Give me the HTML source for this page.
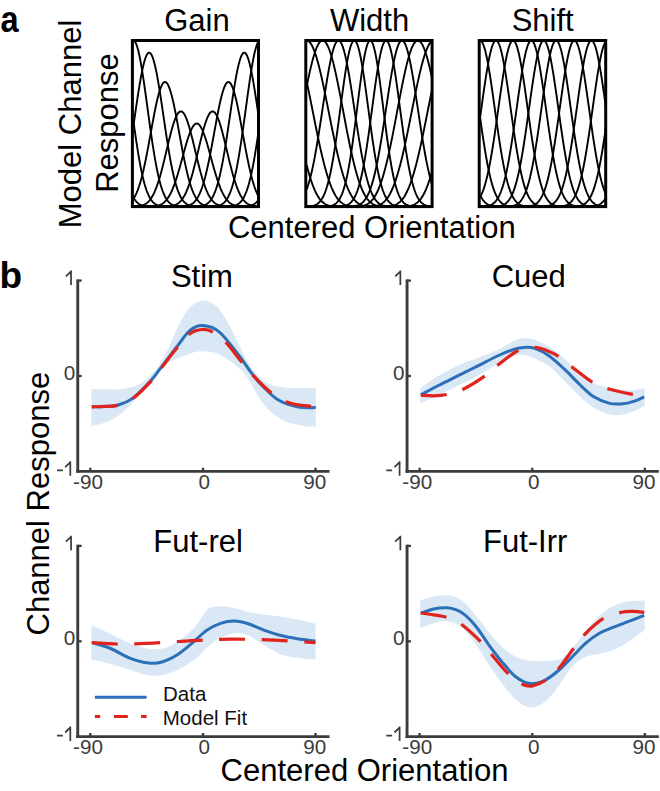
<!DOCTYPE html>
<html><head><meta charset="utf-8"><style>
html,body{margin:0;padding:0;background:#fff;}
svg{display:block;font-family:"Liberation Sans",sans-serif;}
</style></head><body>
<svg width="660" height="791" viewBox="0 0 660 791" font-family="&quot;Liberation Sans&quot;, sans-serif">
<rect width="660" height="791" fill="#fff"/>
<text transform="translate(0.5,32.1) scale(0.88,1)" font-size="37" font-weight="bold" fill="#000">a</text>
<text x="196.90" y="30.6" font-size="31" text-anchor="middle" fill="#000">Gain</text>
<text x="369.60" y="30.6" font-size="31" text-anchor="middle" fill="#000">Width</text>
<text x="542.70" y="30.6" font-size="31" text-anchor="middle" fill="#000">Shift</text>
<defs><clipPath id="c0"><rect x="132.40" y="40.50" width="126.10" height="166.10"/></clipPath><clipPath id="c1"><rect x="305.80" y="40.50" width="126.30" height="166.10"/></clipPath><clipPath id="c2"><rect x="479.20" y="40.50" width="126.50" height="166.10"/></clipPath></defs><g clip-path="url(#c0)" fill="none" stroke="#000" stroke-width="1.9"><path d="M133.30,40.50 L133.93,40.67 L134.57,41.18 L135.20,42.02 L135.84,43.20 L136.47,44.70 L137.10,46.52 L137.74,48.64 L138.37,51.05 L139.01,53.75 L139.64,56.71 L140.27,59.92 L140.91,63.36 L141.54,67.02 L142.18,70.87 L142.81,74.89 L143.44,79.07 L144.08,83.38 L144.71,87.80 L145.35,92.32 L145.98,96.90 L146.61,101.53 L147.25,106.19 L147.88,110.87 L148.52,115.53 L149.15,120.16 L149.78,124.75 L150.42,129.27 L151.05,133.72 L151.69,138.07 L152.32,142.33 L152.95,146.46 L153.59,150.47 L154.22,154.34 L154.86,158.07 L155.49,161.65 L156.12,165.08 L156.76,168.35 L157.39,171.45 L158.03,174.39 L158.66,177.17 L159.29,179.79 L159.93,182.24 L160.56,184.53 L161.20,186.67 L161.83,188.66 L162.46,190.49 L163.10,192.19 L163.73,193.75 L164.37,195.18 L165.00,196.48 L165.63,197.67 L166.27,198.75 L166.90,199.72 L167.54,200.59 L168.17,201.37 L168.80,202.07 L169.44,202.69 L170.07,203.24 L170.71,203.73 L171.34,204.16 L171.97,204.53 L172.61,204.85 L173.24,205.13 L173.88,205.37 L174.51,205.58 L175.14,205.76 L175.78,205.91 L176.41,206.03 L177.05,206.14 L177.68,206.23 L178.31,206.30 L178.95,206.36 L179.58,206.41 L180.22,206.45 L180.85,206.49 L181.48,206.51 L182.12,206.53 L182.75,206.55 L183.39,206.56 L184.02,206.57 L184.65,206.58 L185.29,206.58 L185.92,206.59 L186.56,206.59 L187.19,206.59 L187.82,206.60 L188.46,206.60 L189.09,206.60 L189.73,206.60 L190.36,206.60 L190.99,206.60 L191.63,206.60 L192.26,206.60 L192.90,206.60 L193.53,206.60 L194.16,206.60 L194.80,206.60 L195.43,206.60 L196.07,206.60 L196.70,206.60 L197.33,206.60 L197.97,206.60 L198.60,206.60 L199.24,206.60 L199.87,206.60 L200.50,206.60 L201.14,206.60 L201.77,206.60 L202.41,206.60 L203.04,206.60 L203.67,206.60 L204.31,206.60 L204.94,206.60 L205.58,206.60 L206.21,206.60 L206.84,206.60 L207.48,206.60 L208.11,206.60 L208.75,206.60 L209.38,206.60 L210.01,206.60 L210.65,206.60 L211.28,206.60 L211.92,206.60 L212.55,206.60 L213.18,206.60 L213.82,206.60 L214.45,206.60 L215.09,206.60 L215.72,206.60 L216.35,206.60 L216.99,206.60 L217.62,206.60 L218.26,206.60 L218.89,206.60 L219.52,206.60 L220.16,206.60 L220.79,206.60 L221.43,206.60 L222.06,206.59 L222.69,206.59 L223.33,206.59 L223.96,206.58 L224.60,206.58 L225.23,206.57 L225.86,206.56 L226.50,206.55 L227.13,206.53 L227.77,206.51 L228.40,206.49 L229.03,206.45 L229.67,206.41 L230.30,206.36 L230.94,206.30 L231.57,206.23 L232.20,206.14 L232.84,206.03 L233.47,205.91 L234.11,205.76 L234.74,205.58 L235.37,205.37 L236.01,205.13 L236.64,204.85 L237.28,204.53 L237.91,204.16 L238.54,203.73 L239.18,203.24 L239.81,202.69 L240.45,202.07 L241.08,201.37 L241.71,200.59 L242.35,199.72 L242.98,198.75 L243.62,197.67 L244.25,196.48 L244.88,195.18 L245.52,193.75 L246.15,192.19 L246.79,190.49 L247.42,188.66 L248.05,186.67 L248.69,184.53 L249.32,182.24 L249.96,179.79 L250.59,177.17 L251.22,174.39 L251.86,171.45 L252.49,168.35 L253.13,165.08 L253.76,161.65 L254.39,158.07 L255.03,154.34 L255.66,150.47 L256.30,146.46 L256.93,142.33 L257.56,138.07 L258.20,133.72 L258.83,129.27 L259.47,124.75 L260.10,120.16"/><path d="M133.30,126.49 L133.93,122.19 L134.57,117.88 L135.20,113.55 L135.84,109.23 L136.47,104.93 L137.10,100.68 L137.74,96.50 L138.37,92.40 L139.01,88.41 L139.64,84.54 L140.27,80.81 L140.91,77.24 L141.54,73.85 L142.18,70.66 L142.81,67.69 L143.44,64.94 L144.08,62.44 L144.71,60.20 L145.35,58.24 L145.98,56.55 L146.61,55.16 L147.25,54.07 L147.88,53.29 L148.52,52.82 L149.15,52.66 L149.78,52.82 L150.42,53.29 L151.05,54.07 L151.69,55.16 L152.32,56.55 L152.95,58.24 L153.59,60.20 L154.22,62.44 L154.86,64.94 L155.49,67.69 L156.12,70.66 L156.76,73.85 L157.39,77.24 L158.03,80.81 L158.66,84.54 L159.29,88.41 L159.93,92.40 L160.56,96.50 L161.20,100.68 L161.83,104.93 L162.46,109.23 L163.10,113.55 L163.73,117.88 L164.37,122.19 L165.00,126.49 L165.63,130.74 L166.27,134.93 L166.90,139.05 L167.54,143.09 L168.17,147.03 L168.80,150.86 L169.44,154.58 L170.07,158.17 L170.71,161.63 L171.34,164.95 L171.97,168.12 L172.61,171.15 L173.24,174.02 L173.88,176.75 L174.51,179.33 L175.14,181.75 L175.78,184.02 L176.41,186.15 L177.05,188.13 L177.68,189.97 L178.31,191.67 L178.95,193.25 L179.58,194.69 L180.22,196.02 L180.85,197.22 L181.48,198.32 L182.12,199.32 L182.75,200.22 L183.39,201.03 L184.02,201.76 L184.65,202.40 L185.29,202.98 L185.92,203.49 L186.56,203.94 L187.19,204.33 L187.82,204.68 L188.46,204.98 L189.09,205.24 L189.73,205.46 L190.36,205.65 L190.99,205.82 L191.63,205.96 L192.26,206.08 L192.90,206.17 L193.53,206.26 L194.16,206.32 L194.80,206.38 L195.43,206.43 L196.07,206.46 L196.70,206.49 L197.33,206.52 L197.97,206.54 L198.60,206.55 L199.24,206.56 L199.87,206.57 L200.50,206.58 L201.14,206.59 L201.77,206.59 L202.41,206.59 L203.04,206.59 L203.67,206.60 L204.31,206.60 L204.94,206.60 L205.58,206.60 L206.21,206.60 L206.84,206.60 L207.48,206.60 L208.11,206.60 L208.75,206.60 L209.38,206.60 L210.01,206.60 L210.65,206.60 L211.28,206.60 L211.92,206.60 L212.55,206.60 L213.18,206.60 L213.82,206.60 L214.45,206.60 L215.09,206.60 L215.72,206.60 L216.35,206.60 L216.99,206.60 L217.62,206.60 L218.26,206.60 L218.89,206.60 L219.52,206.60 L220.16,206.60 L220.79,206.60 L221.43,206.60 L222.06,206.60 L222.69,206.60 L223.33,206.60 L223.96,206.60 L224.60,206.60 L225.23,206.60 L225.86,206.60 L226.50,206.60 L227.13,206.60 L227.77,206.60 L228.40,206.60 L229.03,206.60 L229.67,206.60 L230.30,206.60 L230.94,206.60 L231.57,206.60 L232.20,206.60 L232.84,206.60 L233.47,206.60 L234.11,206.60 L234.74,206.60 L235.37,206.60 L236.01,206.60 L236.64,206.60 L237.28,206.60 L237.91,206.59 L238.54,206.59 L239.18,206.59 L239.81,206.59 L240.45,206.58 L241.08,206.57 L241.71,206.56 L242.35,206.55 L242.98,206.54 L243.62,206.52 L244.25,206.49 L244.88,206.46 L245.52,206.43 L246.15,206.38 L246.79,206.32 L247.42,206.26 L248.05,206.17 L248.69,206.08 L249.32,205.96 L249.96,205.82 L250.59,205.65 L251.22,205.46 L251.86,205.24 L252.49,204.98 L253.13,204.68 L253.76,204.33 L254.39,203.94 L255.03,203.49 L255.66,202.98 L256.30,202.40 L256.93,201.76 L257.56,201.03 L258.20,200.22 L258.83,199.32 L259.47,198.32 L260.10,197.22"/><path d="M133.30,199.01 L133.93,198.03 L134.57,196.96 L135.20,195.79 L135.84,194.52 L136.47,193.14 L137.10,191.65 L137.74,190.05 L138.37,188.33 L139.01,186.49 L139.64,184.53 L140.27,182.44 L140.91,180.24 L141.54,177.91 L142.18,175.46 L142.81,172.89 L143.44,170.21 L144.08,167.41 L144.71,164.50 L145.35,161.50 L145.98,158.39 L146.61,155.21 L147.25,151.94 L147.88,148.60 L148.52,145.21 L149.15,141.77 L149.78,138.29 L150.42,134.80 L151.05,131.30 L151.69,127.80 L152.32,124.32 L152.95,120.89 L153.59,117.50 L154.22,114.18 L154.86,110.95 L155.49,107.82 L156.12,104.80 L156.76,101.91 L157.39,99.17 L158.03,96.59 L158.66,94.18 L159.29,91.96 L159.93,89.94 L160.56,88.13 L161.20,86.54 L161.83,85.17 L162.46,84.05 L163.10,83.17 L163.73,82.53 L164.37,82.15 L165.00,82.03 L165.63,82.15 L166.27,82.53 L166.90,83.17 L167.54,84.05 L168.17,85.17 L168.80,86.54 L169.44,88.13 L170.07,89.94 L170.71,91.96 L171.34,94.18 L171.97,96.59 L172.61,99.17 L173.24,101.91 L173.88,104.80 L174.51,107.82 L175.14,110.95 L175.78,114.18 L176.41,117.50 L177.05,120.89 L177.68,124.32 L178.31,127.80 L178.95,131.30 L179.58,134.80 L180.22,138.29 L180.85,141.77 L181.48,145.21 L182.12,148.60 L182.75,151.94 L183.39,155.21 L184.02,158.39 L184.65,161.50 L185.29,164.50 L185.92,167.41 L186.56,170.21 L187.19,172.89 L187.82,175.46 L188.46,177.91 L189.09,180.24 L189.73,182.44 L190.36,184.53 L190.99,186.49 L191.63,188.33 L192.26,190.05 L192.90,191.65 L193.53,193.14 L194.16,194.52 L194.80,195.79 L195.43,196.96 L196.07,198.03 L196.70,199.01 L197.33,199.90 L197.97,200.71 L198.60,201.44 L199.24,202.09 L199.87,202.68 L200.50,203.20 L201.14,203.67 L201.77,204.08 L202.41,204.45 L203.04,204.77 L203.67,205.05 L204.31,205.29 L204.94,205.50 L205.58,205.68 L206.21,205.84 L206.84,205.97 L207.48,206.08 L208.11,206.18 L208.75,206.25 L209.38,206.32 L210.01,206.38 L210.65,206.42 L211.28,206.46 L211.92,206.49 L212.55,206.51 L213.18,206.53 L213.82,206.55 L214.45,206.56 L215.09,206.57 L215.72,206.58 L216.35,206.58 L216.99,206.59 L217.62,206.59 L218.26,206.59 L218.89,206.60 L219.52,206.60 L220.16,206.60 L220.79,206.60 L221.43,206.60 L222.06,206.60 L222.69,206.60 L223.33,206.60 L223.96,206.60 L224.60,206.60 L225.23,206.60 L225.86,206.60 L226.50,206.60 L227.13,206.60 L227.77,206.60 L228.40,206.60 L229.03,206.60 L229.67,206.60 L230.30,206.60 L230.94,206.60 L231.57,206.60 L232.20,206.60 L232.84,206.60 L233.47,206.60 L234.11,206.60 L234.74,206.60 L235.37,206.60 L236.01,206.60 L236.64,206.60 L237.28,206.60 L237.91,206.60 L238.54,206.60 L239.18,206.60 L239.81,206.60 L240.45,206.60 L241.08,206.60 L241.71,206.60 L242.35,206.60 L242.98,206.60 L243.62,206.60 L244.25,206.60 L244.88,206.60 L245.52,206.60 L246.15,206.60 L246.79,206.60 L247.42,206.60 L248.05,206.60 L248.69,206.60 L249.32,206.60 L249.96,206.60 L250.59,206.60 L251.22,206.60 L251.86,206.60 L252.49,206.60 L253.13,206.60 L253.76,206.60 L254.39,206.59 L255.03,206.59 L255.66,206.59 L256.30,206.58 L256.93,206.58 L257.56,206.57 L258.20,206.56 L258.83,206.55 L259.47,206.53 L260.10,206.51"/><path d="M133.30,206.53 L133.93,206.52 L134.57,206.49 L135.20,206.46 L135.84,206.43 L136.47,206.39 L137.10,206.34 L137.74,206.28 L138.37,206.20 L139.01,206.12 L139.64,206.02 L140.27,205.90 L140.91,205.76 L141.54,205.60 L142.18,205.41 L142.81,205.20 L143.44,204.95 L144.08,204.68 L144.71,204.36 L145.35,204.00 L145.98,203.60 L146.61,203.16 L147.25,202.65 L147.88,202.10 L148.52,201.48 L149.15,200.80 L149.78,200.05 L150.42,199.23 L151.05,198.34 L151.69,197.37 L152.32,196.31 L152.95,195.18 L153.59,193.95 L154.22,192.64 L154.86,191.23 L155.49,189.73 L156.12,188.14 L156.76,186.45 L157.39,184.67 L158.03,182.80 L158.66,180.84 L159.29,178.78 L159.93,176.65 L160.56,174.43 L161.20,172.13 L161.83,169.76 L162.46,167.32 L163.10,164.82 L163.73,162.27 L164.37,159.68 L165.00,157.05 L165.63,154.39 L166.27,151.72 L166.90,149.05 L167.54,146.37 L168.17,143.72 L168.80,141.09 L169.44,138.50 L170.07,135.97 L170.71,133.50 L171.34,131.10 L171.97,128.79 L172.61,126.59 L173.24,124.49 L173.88,122.52 L174.51,120.68 L175.14,118.98 L175.78,117.44 L176.41,116.05 L177.05,114.84 L177.68,113.79 L178.31,112.93 L178.95,112.26 L179.58,111.78 L180.22,111.49 L180.85,111.39 L181.48,111.49 L182.12,111.78 L182.75,112.26 L183.39,112.93 L184.02,113.79 L184.65,114.84 L185.29,116.05 L185.92,117.44 L186.56,118.98 L187.19,120.68 L187.82,122.52 L188.46,124.49 L189.09,126.59 L189.73,128.79 L190.36,131.10 L190.99,133.50 L191.63,135.97 L192.26,138.50 L192.90,141.09 L193.53,143.72 L194.16,146.37 L194.80,149.05 L195.43,151.72 L196.07,154.39 L196.70,157.05 L197.33,159.68 L197.97,162.27 L198.60,164.82 L199.24,167.32 L199.87,169.76 L200.50,172.13 L201.14,174.43 L201.77,176.65 L202.41,178.78 L203.04,180.84 L203.67,182.80 L204.31,184.67 L204.94,186.45 L205.58,188.14 L206.21,189.73 L206.84,191.23 L207.48,192.64 L208.11,193.95 L208.75,195.18 L209.38,196.31 L210.01,197.37 L210.65,198.34 L211.28,199.23 L211.92,200.05 L212.55,200.80 L213.18,201.48 L213.82,202.10 L214.45,202.65 L215.09,203.16 L215.72,203.60 L216.35,204.00 L216.99,204.36 L217.62,204.68 L218.26,204.95 L218.89,205.20 L219.52,205.41 L220.16,205.60 L220.79,205.76 L221.43,205.90 L222.06,206.02 L222.69,206.12 L223.33,206.20 L223.96,206.28 L224.60,206.34 L225.23,206.39 L225.86,206.43 L226.50,206.46 L227.13,206.49 L227.77,206.52 L228.40,206.53 L229.03,206.55 L229.67,206.56 L230.30,206.57 L230.94,206.58 L231.57,206.58 L232.20,206.59 L232.84,206.59 L233.47,206.59 L234.11,206.60 L234.74,206.60 L235.37,206.60 L236.01,206.60 L236.64,206.60 L237.28,206.60 L237.91,206.60 L238.54,206.60 L239.18,206.60 L239.81,206.60 L240.45,206.60 L241.08,206.60 L241.71,206.60 L242.35,206.60 L242.98,206.60 L243.62,206.60 L244.25,206.60 L244.88,206.60 L245.52,206.60 L246.15,206.60 L246.79,206.60 L247.42,206.60 L248.05,206.60 L248.69,206.60 L249.32,206.60 L249.96,206.60 L250.59,206.60 L251.22,206.60 L251.86,206.60 L252.49,206.60 L253.13,206.60 L253.76,206.60 L254.39,206.60 L255.03,206.60 L255.66,206.60 L256.30,206.60 L256.93,206.60 L257.56,206.60 L258.20,206.60 L258.83,206.60 L259.47,206.60 L260.10,206.60"/><path d="M133.30,206.60 L133.93,206.60 L134.57,206.60 L135.20,206.60 L135.84,206.60 L136.47,206.60 L137.10,206.60 L137.74,206.60 L138.37,206.60 L139.01,206.60 L139.64,206.60 L140.27,206.60 L140.91,206.60 L141.54,206.60 L142.18,206.60 L142.81,206.60 L143.44,206.60 L144.08,206.59 L144.71,206.59 L145.35,206.59 L145.98,206.59 L146.61,206.58 L147.25,206.57 L147.88,206.57 L148.52,206.56 L149.15,206.54 L149.78,206.53 L150.42,206.51 L151.05,206.48 L151.69,206.45 L152.32,206.41 L152.95,206.37 L153.59,206.32 L154.22,206.25 L154.86,206.18 L155.49,206.09 L156.12,205.99 L156.76,205.87 L157.39,205.73 L158.03,205.56 L158.66,205.38 L159.29,205.16 L159.93,204.92 L160.56,204.65 L161.20,204.34 L161.83,203.99 L162.46,203.60 L163.10,203.16 L163.73,202.67 L164.37,202.14 L165.00,201.54 L165.63,200.89 L166.27,200.17 L166.90,199.40 L167.54,198.55 L168.17,197.63 L168.80,196.63 L169.44,195.57 L170.07,194.42 L170.71,193.19 L171.34,191.89 L171.97,190.50 L172.61,189.03 L173.24,187.47 L173.88,185.84 L174.51,184.13 L175.14,182.34 L175.78,180.47 L176.41,178.54 L177.05,176.53 L177.68,174.46 L178.31,172.34 L178.95,170.16 L179.58,167.94 L180.22,165.67 L180.85,163.38 L181.48,161.06 L182.12,158.73 L182.75,156.40 L183.39,154.07 L184.02,151.75 L184.65,149.46 L185.29,147.20 L185.92,144.99 L186.56,142.83 L187.19,140.75 L187.82,138.73 L188.46,136.81 L189.09,134.98 L189.73,133.26 L190.36,131.65 L190.99,130.17 L191.63,128.83 L192.26,127.62 L192.90,126.56 L193.53,125.65 L194.16,124.90 L194.80,124.31 L195.43,123.89 L196.07,123.63 L196.70,123.55 L197.33,123.63 L197.97,123.89 L198.60,124.31 L199.24,124.90 L199.87,125.65 L200.50,126.56 L201.14,127.62 L201.77,128.83 L202.41,130.17 L203.04,131.65 L203.67,133.26 L204.31,134.98 L204.94,136.81 L205.58,138.73 L206.21,140.75 L206.84,142.83 L207.48,144.99 L208.11,147.20 L208.75,149.46 L209.38,151.75 L210.01,154.07 L210.65,156.40 L211.28,158.73 L211.92,161.06 L212.55,163.38 L213.18,165.67 L213.82,167.94 L214.45,170.16 L215.09,172.34 L215.72,174.46 L216.35,176.53 L216.99,178.54 L217.62,180.47 L218.26,182.34 L218.89,184.13 L219.52,185.84 L220.16,187.47 L220.79,189.03 L221.43,190.50 L222.06,191.89 L222.69,193.19 L223.33,194.42 L223.96,195.57 L224.60,196.63 L225.23,197.63 L225.86,198.55 L226.50,199.40 L227.13,200.17 L227.77,200.89 L228.40,201.54 L229.03,202.14 L229.67,202.67 L230.30,203.16 L230.94,203.60 L231.57,203.99 L232.20,204.34 L232.84,204.65 L233.47,204.92 L234.11,205.16 L234.74,205.38 L235.37,205.56 L236.01,205.73 L236.64,205.87 L237.28,205.99 L237.91,206.09 L238.54,206.18 L239.18,206.25 L239.81,206.32 L240.45,206.37 L241.08,206.41 L241.71,206.45 L242.35,206.48 L242.98,206.51 L243.62,206.53 L244.25,206.54 L244.88,206.56 L245.52,206.57 L246.15,206.57 L246.79,206.58 L247.42,206.59 L248.05,206.59 L248.69,206.59 L249.32,206.59 L249.96,206.60 L250.59,206.60 L251.22,206.60 L251.86,206.60 L252.49,206.60 L253.13,206.60 L253.76,206.60 L254.39,206.60 L255.03,206.60 L255.66,206.60 L256.30,206.60 L256.93,206.60 L257.56,206.60 L258.20,206.60 L258.83,206.60 L259.47,206.60 L260.10,206.60"/><path d="M133.30,206.60 L133.93,206.60 L134.57,206.60 L135.20,206.60 L135.84,206.60 L136.47,206.60 L137.10,206.60 L137.74,206.60 L138.37,206.60 L139.01,206.60 L139.64,206.60 L140.27,206.60 L140.91,206.60 L141.54,206.60 L142.18,206.60 L142.81,206.60 L143.44,206.60 L144.08,206.60 L144.71,206.60 L145.35,206.60 L145.98,206.60 L146.61,206.60 L147.25,206.60 L147.88,206.60 L148.52,206.60 L149.15,206.60 L149.78,206.60 L150.42,206.60 L151.05,206.60 L151.69,206.60 L152.32,206.60 L152.95,206.60 L153.59,206.60 L154.22,206.60 L154.86,206.60 L155.49,206.60 L156.12,206.60 L156.76,206.60 L157.39,206.60 L158.03,206.60 L158.66,206.60 L159.29,206.60 L159.93,206.59 L160.56,206.59 L161.20,206.59 L161.83,206.58 L162.46,206.58 L163.10,206.57 L163.73,206.56 L164.37,206.55 L165.00,206.53 L165.63,206.52 L166.27,206.49 L166.90,206.46 L167.54,206.43 L168.17,206.39 L168.80,206.34 L169.44,206.28 L170.07,206.20 L170.71,206.12 L171.34,206.02 L171.97,205.90 L172.61,205.76 L173.24,205.60 L173.88,205.41 L174.51,205.20 L175.14,204.95 L175.78,204.68 L176.41,204.36 L177.05,204.00 L177.68,203.60 L178.31,203.16 L178.95,202.65 L179.58,202.10 L180.22,201.48 L180.85,200.80 L181.48,200.05 L182.12,199.23 L182.75,198.34 L183.39,197.37 L184.02,196.31 L184.65,195.18 L185.29,193.95 L185.92,192.64 L186.56,191.23 L187.19,189.73 L187.82,188.14 L188.46,186.45 L189.09,184.67 L189.73,182.80 L190.36,180.84 L190.99,178.78 L191.63,176.65 L192.26,174.43 L192.90,172.13 L193.53,169.76 L194.16,167.32 L194.80,164.82 L195.43,162.27 L196.07,159.68 L196.70,157.05 L197.33,154.39 L197.97,151.72 L198.60,149.05 L199.24,146.37 L199.87,143.72 L200.50,141.09 L201.14,138.50 L201.77,135.97 L202.41,133.50 L203.04,131.10 L203.67,128.79 L204.31,126.59 L204.94,124.49 L205.58,122.52 L206.21,120.68 L206.84,118.98 L207.48,117.44 L208.11,116.05 L208.75,114.84 L209.38,113.79 L210.01,112.93 L210.65,112.26 L211.28,111.78 L211.92,111.49 L212.55,111.39 L213.18,111.49 L213.82,111.78 L214.45,112.26 L215.09,112.93 L215.72,113.79 L216.35,114.84 L216.99,116.05 L217.62,117.44 L218.26,118.98 L218.89,120.68 L219.52,122.52 L220.16,124.49 L220.79,126.59 L221.43,128.79 L222.06,131.10 L222.69,133.50 L223.33,135.97 L223.96,138.50 L224.60,141.09 L225.23,143.72 L225.86,146.37 L226.50,149.05 L227.13,151.72 L227.77,154.39 L228.40,157.05 L229.03,159.68 L229.67,162.27 L230.30,164.82 L230.94,167.32 L231.57,169.76 L232.20,172.13 L232.84,174.43 L233.47,176.65 L234.11,178.78 L234.74,180.84 L235.37,182.80 L236.01,184.67 L236.64,186.45 L237.28,188.14 L237.91,189.73 L238.54,191.23 L239.18,192.64 L239.81,193.95 L240.45,195.18 L241.08,196.31 L241.71,197.37 L242.35,198.34 L242.98,199.23 L243.62,200.05 L244.25,200.80 L244.88,201.48 L245.52,202.10 L246.15,202.65 L246.79,203.16 L247.42,203.60 L248.05,204.00 L248.69,204.36 L249.32,204.68 L249.96,204.95 L250.59,205.20 L251.22,205.41 L251.86,205.60 L252.49,205.76 L253.13,205.90 L253.76,206.02 L254.39,206.12 L255.03,206.20 L255.66,206.28 L256.30,206.34 L256.93,206.39 L257.56,206.43 L258.20,206.46 L258.83,206.49 L259.47,206.52 L260.10,206.53"/><path d="M133.30,206.51 L133.93,206.53 L134.57,206.55 L135.20,206.56 L135.84,206.57 L136.47,206.58 L137.10,206.58 L137.74,206.59 L138.37,206.59 L139.01,206.59 L139.64,206.60 L140.27,206.60 L140.91,206.60 L141.54,206.60 L142.18,206.60 L142.81,206.60 L143.44,206.60 L144.08,206.60 L144.71,206.60 L145.35,206.60 L145.98,206.60 L146.61,206.60 L147.25,206.60 L147.88,206.60 L148.52,206.60 L149.15,206.60 L149.78,206.60 L150.42,206.60 L151.05,206.60 L151.69,206.60 L152.32,206.60 L152.95,206.60 L153.59,206.60 L154.22,206.60 L154.86,206.60 L155.49,206.60 L156.12,206.60 L156.76,206.60 L157.39,206.60 L158.03,206.60 L158.66,206.60 L159.29,206.60 L159.93,206.60 L160.56,206.60 L161.20,206.60 L161.83,206.60 L162.46,206.60 L163.10,206.60 L163.73,206.60 L164.37,206.60 L165.00,206.60 L165.63,206.60 L166.27,206.60 L166.90,206.60 L167.54,206.60 L168.17,206.60 L168.80,206.60 L169.44,206.60 L170.07,206.60 L170.71,206.60 L171.34,206.60 L171.97,206.60 L172.61,206.60 L173.24,206.60 L173.88,206.60 L174.51,206.60 L175.14,206.59 L175.78,206.59 L176.41,206.59 L177.05,206.58 L177.68,206.58 L178.31,206.57 L178.95,206.56 L179.58,206.55 L180.22,206.53 L180.85,206.51 L181.48,206.49 L182.12,206.46 L182.75,206.42 L183.39,206.38 L184.02,206.32 L184.65,206.25 L185.29,206.18 L185.92,206.08 L186.56,205.97 L187.19,205.84 L187.82,205.68 L188.46,205.50 L189.09,205.29 L189.73,205.05 L190.36,204.77 L190.99,204.45 L191.63,204.08 L192.26,203.67 L192.90,203.20 L193.53,202.68 L194.16,202.09 L194.80,201.44 L195.43,200.71 L196.07,199.90 L196.70,199.01 L197.33,198.03 L197.97,196.96 L198.60,195.79 L199.24,194.52 L199.87,193.14 L200.50,191.65 L201.14,190.05 L201.77,188.33 L202.41,186.49 L203.04,184.53 L203.67,182.44 L204.31,180.24 L204.94,177.91 L205.58,175.46 L206.21,172.89 L206.84,170.21 L207.48,167.41 L208.11,164.50 L208.75,161.50 L209.38,158.39 L210.01,155.21 L210.65,151.94 L211.28,148.60 L211.92,145.21 L212.55,141.77 L213.18,138.29 L213.82,134.80 L214.45,131.30 L215.09,127.80 L215.72,124.32 L216.35,120.89 L216.99,117.50 L217.62,114.18 L218.26,110.95 L218.89,107.82 L219.52,104.80 L220.16,101.91 L220.79,99.17 L221.43,96.59 L222.06,94.18 L222.69,91.96 L223.33,89.94 L223.96,88.13 L224.60,86.54 L225.23,85.17 L225.86,84.05 L226.50,83.17 L227.13,82.53 L227.77,82.15 L228.40,82.03 L229.03,82.15 L229.67,82.53 L230.30,83.17 L230.94,84.05 L231.57,85.17 L232.20,86.54 L232.84,88.13 L233.47,89.94 L234.11,91.96 L234.74,94.18 L235.37,96.59 L236.01,99.17 L236.64,101.91 L237.28,104.80 L237.91,107.82 L238.54,110.95 L239.18,114.18 L239.81,117.50 L240.45,120.89 L241.08,124.32 L241.71,127.80 L242.35,131.30 L242.98,134.80 L243.62,138.29 L244.25,141.77 L244.88,145.21 L245.52,148.60 L246.15,151.94 L246.79,155.21 L247.42,158.39 L248.05,161.50 L248.69,164.50 L249.32,167.41 L249.96,170.21 L250.59,172.89 L251.22,175.46 L251.86,177.91 L252.49,180.24 L253.13,182.44 L253.76,184.53 L254.39,186.49 L255.03,188.33 L255.66,190.05 L256.30,191.65 L256.93,193.14 L257.56,194.52 L258.20,195.79 L258.83,196.96 L259.47,198.03 L260.10,199.01"/><path d="M133.30,197.22 L133.93,198.32 L134.57,199.32 L135.20,200.22 L135.84,201.03 L136.47,201.76 L137.10,202.40 L137.74,202.98 L138.37,203.49 L139.01,203.94 L139.64,204.33 L140.27,204.68 L140.91,204.98 L141.54,205.24 L142.18,205.46 L142.81,205.65 L143.44,205.82 L144.08,205.96 L144.71,206.08 L145.35,206.17 L145.98,206.26 L146.61,206.32 L147.25,206.38 L147.88,206.43 L148.52,206.46 L149.15,206.49 L149.78,206.52 L150.42,206.54 L151.05,206.55 L151.69,206.56 L152.32,206.57 L152.95,206.58 L153.59,206.59 L154.22,206.59 L154.86,206.59 L155.49,206.59 L156.12,206.60 L156.76,206.60 L157.39,206.60 L158.03,206.60 L158.66,206.60 L159.29,206.60 L159.93,206.60 L160.56,206.60 L161.20,206.60 L161.83,206.60 L162.46,206.60 L163.10,206.60 L163.73,206.60 L164.37,206.60 L165.00,206.60 L165.63,206.60 L166.27,206.60 L166.90,206.60 L167.54,206.60 L168.17,206.60 L168.80,206.60 L169.44,206.60 L170.07,206.60 L170.71,206.60 L171.34,206.60 L171.97,206.60 L172.61,206.60 L173.24,206.60 L173.88,206.60 L174.51,206.60 L175.14,206.60 L175.78,206.60 L176.41,206.60 L177.05,206.60 L177.68,206.60 L178.31,206.60 L178.95,206.60 L179.58,206.60 L180.22,206.60 L180.85,206.60 L181.48,206.60 L182.12,206.60 L182.75,206.60 L183.39,206.60 L184.02,206.60 L184.65,206.60 L185.29,206.60 L185.92,206.60 L186.56,206.60 L187.19,206.60 L187.82,206.60 L188.46,206.60 L189.09,206.60 L189.73,206.60 L190.36,206.59 L190.99,206.59 L191.63,206.59 L192.26,206.59 L192.90,206.58 L193.53,206.57 L194.16,206.56 L194.80,206.55 L195.43,206.54 L196.07,206.52 L196.70,206.49 L197.33,206.46 L197.97,206.43 L198.60,206.38 L199.24,206.32 L199.87,206.26 L200.50,206.17 L201.14,206.08 L201.77,205.96 L202.41,205.82 L203.04,205.65 L203.67,205.46 L204.31,205.24 L204.94,204.98 L205.58,204.68 L206.21,204.33 L206.84,203.94 L207.48,203.49 L208.11,202.98 L208.75,202.40 L209.38,201.76 L210.01,201.03 L210.65,200.22 L211.28,199.32 L211.92,198.32 L212.55,197.22 L213.18,196.02 L213.82,194.69 L214.45,193.25 L215.09,191.67 L215.72,189.97 L216.35,188.13 L216.99,186.15 L217.62,184.02 L218.26,181.75 L218.89,179.33 L219.52,176.75 L220.16,174.02 L220.79,171.15 L221.43,168.12 L222.06,164.95 L222.69,161.63 L223.33,158.17 L223.96,154.58 L224.60,150.86 L225.23,147.03 L225.86,143.09 L226.50,139.05 L227.13,134.93 L227.77,130.74 L228.40,126.49 L229.03,122.19 L229.67,117.88 L230.30,113.55 L230.94,109.23 L231.57,104.93 L232.20,100.68 L232.84,96.50 L233.47,92.40 L234.11,88.41 L234.74,84.54 L235.37,80.81 L236.01,77.24 L236.64,73.85 L237.28,70.66 L237.91,67.69 L238.54,64.94 L239.18,62.44 L239.81,60.20 L240.45,58.24 L241.08,56.55 L241.71,55.16 L242.35,54.07 L242.98,53.29 L243.62,52.82 L244.25,52.66 L244.88,52.82 L245.52,53.29 L246.15,54.07 L246.79,55.16 L247.42,56.55 L248.05,58.24 L248.69,60.20 L249.32,62.44 L249.96,64.94 L250.59,67.69 L251.22,70.66 L251.86,73.85 L252.49,77.24 L253.13,80.81 L253.76,84.54 L254.39,88.41 L255.03,92.40 L255.66,96.50 L256.30,100.68 L256.93,104.93 L257.56,109.23 L258.20,113.55 L258.83,117.88 L259.47,122.19 L260.10,126.49"/><path d="M133.30,120.16 L133.93,124.75 L134.57,129.27 L135.20,133.72 L135.84,138.07 L136.47,142.33 L137.10,146.46 L137.74,150.47 L138.37,154.34 L139.01,158.07 L139.64,161.65 L140.27,165.08 L140.91,168.35 L141.54,171.45 L142.18,174.39 L142.81,177.17 L143.44,179.79 L144.08,182.24 L144.71,184.53 L145.35,186.67 L145.98,188.66 L146.61,190.49 L147.25,192.19 L147.88,193.75 L148.52,195.18 L149.15,196.48 L149.78,197.67 L150.42,198.75 L151.05,199.72 L151.69,200.59 L152.32,201.37 L152.95,202.07 L153.59,202.69 L154.22,203.24 L154.86,203.73 L155.49,204.16 L156.12,204.53 L156.76,204.85 L157.39,205.13 L158.03,205.37 L158.66,205.58 L159.29,205.76 L159.93,205.91 L160.56,206.03 L161.20,206.14 L161.83,206.23 L162.46,206.30 L163.10,206.36 L163.73,206.41 L164.37,206.45 L165.00,206.49 L165.63,206.51 L166.27,206.53 L166.90,206.55 L167.54,206.56 L168.17,206.57 L168.80,206.58 L169.44,206.58 L170.07,206.59 L170.71,206.59 L171.34,206.59 L171.97,206.60 L172.61,206.60 L173.24,206.60 L173.88,206.60 L174.51,206.60 L175.14,206.60 L175.78,206.60 L176.41,206.60 L177.05,206.60 L177.68,206.60 L178.31,206.60 L178.95,206.60 L179.58,206.60 L180.22,206.60 L180.85,206.60 L181.48,206.60 L182.12,206.60 L182.75,206.60 L183.39,206.60 L184.02,206.60 L184.65,206.60 L185.29,206.60 L185.92,206.60 L186.56,206.60 L187.19,206.60 L187.82,206.60 L188.46,206.60 L189.09,206.60 L189.73,206.60 L190.36,206.60 L190.99,206.60 L191.63,206.60 L192.26,206.60 L192.90,206.60 L193.53,206.60 L194.16,206.60 L194.80,206.60 L195.43,206.60 L196.07,206.60 L196.70,206.60 L197.33,206.60 L197.97,206.60 L198.60,206.60 L199.24,206.60 L199.87,206.60 L200.50,206.60 L201.14,206.60 L201.77,206.60 L202.41,206.60 L203.04,206.60 L203.67,206.60 L204.31,206.60 L204.94,206.60 L205.58,206.60 L206.21,206.59 L206.84,206.59 L207.48,206.59 L208.11,206.58 L208.75,206.58 L209.38,206.57 L210.01,206.56 L210.65,206.55 L211.28,206.53 L211.92,206.51 L212.55,206.49 L213.18,206.45 L213.82,206.41 L214.45,206.36 L215.09,206.30 L215.72,206.23 L216.35,206.14 L216.99,206.03 L217.62,205.91 L218.26,205.76 L218.89,205.58 L219.52,205.37 L220.16,205.13 L220.79,204.85 L221.43,204.53 L222.06,204.16 L222.69,203.73 L223.33,203.24 L223.96,202.69 L224.60,202.07 L225.23,201.37 L225.86,200.59 L226.50,199.72 L227.13,198.75 L227.77,197.67 L228.40,196.48 L229.03,195.18 L229.67,193.75 L230.30,192.19 L230.94,190.49 L231.57,188.66 L232.20,186.67 L232.84,184.53 L233.47,182.24 L234.11,179.79 L234.74,177.17 L235.37,174.39 L236.01,171.45 L236.64,168.35 L237.28,165.08 L237.91,161.65 L238.54,158.07 L239.18,154.34 L239.81,150.47 L240.45,146.46 L241.08,142.33 L241.71,138.07 L242.35,133.72 L242.98,129.27 L243.62,124.75 L244.25,120.16 L244.88,115.53 L245.52,110.87 L246.15,106.19 L246.79,101.53 L247.42,96.90 L248.05,92.32 L248.69,87.80 L249.32,83.38 L249.96,79.07 L250.59,74.89 L251.22,70.87 L251.86,67.02 L252.49,63.36 L253.13,59.92 L253.76,56.71 L254.39,53.75 L255.03,51.05 L255.66,48.64 L256.30,46.52 L256.93,44.70 L257.56,43.20 L258.20,42.02 L258.83,41.18 L259.47,40.67 L260.10,40.50"/></g><rect x="132.40" y="40.50" width="126.10" height="166.10" fill="none" stroke="#000" stroke-width="3"/><g clip-path="url(#c1)" fill="none" stroke="#000" stroke-width="1.9"><path d="M306.70,40.50 L307.33,40.57 L307.97,40.80 L308.60,41.17 L309.24,41.69 L309.88,42.35 L310.51,43.16 L311.14,44.12 L311.78,45.21 L312.41,46.44 L313.05,47.81 L313.69,49.31 L314.32,50.93 L314.95,52.69 L315.59,54.56 L316.22,56.55 L316.86,58.66 L317.50,60.87 L318.13,63.18 L318.76,65.60 L319.40,68.10 L320.03,70.70 L320.67,73.37 L321.31,76.12 L321.94,78.95 L322.57,81.83 L323.21,84.78 L323.85,87.77 L324.48,90.82 L325.12,93.90 L325.75,97.02 L326.38,100.17 L327.02,103.34 L327.65,106.52 L328.29,109.72 L328.93,112.91 L329.56,116.11 L330.19,119.30 L330.83,122.48 L331.46,125.64 L332.10,128.78 L332.74,131.89 L333.37,134.96 L334.00,138.00 L334.64,140.99 L335.27,143.94 L335.91,146.84 L336.55,149.68 L337.18,152.47 L337.81,155.19 L338.45,157.85 L339.08,160.45 L339.72,162.97 L340.36,165.42 L340.99,167.80 L341.62,170.10 L342.26,172.33 L342.89,174.47 L343.53,176.54 L344.17,178.53 L344.80,180.44 L345.44,182.26 L346.07,184.01 L346.70,185.67 L347.34,187.26 L347.98,188.76 L348.61,190.19 L349.25,191.54 L349.88,192.81 L350.51,194.01 L351.15,195.14 L351.79,196.20 L352.42,197.18 L353.06,198.10 L353.69,198.96 L354.32,199.75 L354.96,200.48 L355.60,201.16 L356.23,201.78 L356.87,202.34 L357.50,202.86 L358.13,203.33 L358.77,203.75 L359.41,204.14 L360.04,204.48 L360.68,204.79 L361.31,205.06 L361.94,205.30 L362.58,205.51 L363.22,205.69 L363.85,205.85 L364.49,205.99 L365.12,206.11 L365.75,206.20 L366.39,206.29 L367.03,206.36 L367.66,206.41 L368.30,206.46 L368.93,206.50 L369.56,206.53 L370.20,206.55 L370.84,206.56 L371.47,206.58 L372.11,206.58 L372.74,206.59 L373.38,206.59 L374.01,206.60 L374.65,206.60 L375.28,206.60 L375.92,206.60 L376.55,206.60 L377.19,206.60 L377.82,206.60 L378.46,206.60 L379.09,206.60 L379.73,206.60 L380.36,206.60 L381.00,206.60 L381.63,206.60 L382.26,206.60 L382.90,206.59 L383.54,206.59 L384.17,206.58 L384.81,206.58 L385.44,206.56 L386.08,206.55 L386.71,206.53 L387.35,206.50 L387.98,206.46 L388.62,206.41 L389.25,206.36 L389.89,206.29 L390.52,206.20 L391.16,206.11 L391.79,205.99 L392.43,205.85 L393.06,205.69 L393.70,205.51 L394.33,205.30 L394.97,205.06 L395.60,204.79 L396.24,204.48 L396.87,204.14 L397.50,203.75 L398.14,203.33 L398.78,202.86 L399.41,202.34 L400.05,201.78 L400.68,201.16 L401.32,200.48 L401.95,199.75 L402.59,198.96 L403.22,198.10 L403.86,197.18 L404.49,196.20 L405.12,195.14 L405.76,194.01 L406.40,192.81 L407.03,191.54 L407.67,190.19 L408.30,188.76 L408.94,187.26 L409.57,185.67 L410.21,184.01 L410.84,182.26 L411.48,180.44 L412.11,178.53 L412.75,176.54 L413.38,174.47 L414.02,172.33 L414.65,170.10 L415.29,167.80 L415.92,165.42 L416.56,162.97 L417.19,160.45 L417.83,157.85 L418.46,155.19 L419.10,152.47 L419.73,149.68 L420.37,146.84 L421.00,143.94 L421.64,140.99 L422.27,138.00 L422.91,134.96 L423.54,131.89 L424.18,128.78 L424.81,125.64 L425.45,122.48 L426.08,119.30 L426.72,116.11 L427.35,112.91 L427.99,109.72 L428.62,106.52 L429.26,103.34 L429.89,100.17 L430.53,97.02 L431.16,93.90 L431.80,90.82 L432.43,87.77 L433.07,84.78 L433.70,81.83"/><path d="M306.70,86.40 L307.33,83.25 L307.97,80.17 L308.60,77.15 L309.24,74.21 L309.88,71.35 L310.51,68.58 L311.14,65.90 L311.78,63.33 L312.41,60.87 L313.05,58.53 L313.69,56.30 L314.32,54.21 L314.95,52.25 L315.59,50.42 L316.22,48.74 L316.86,47.20 L317.50,45.81 L318.13,44.58 L318.76,43.51 L319.40,42.59 L320.03,41.84 L320.67,41.26 L321.31,40.84 L321.94,40.58 L322.57,40.50 L323.21,40.58 L323.85,40.84 L324.48,41.26 L325.12,41.84 L325.75,42.59 L326.38,43.51 L327.02,44.58 L327.65,45.81 L328.29,47.20 L328.93,48.74 L329.56,50.42 L330.19,52.25 L330.83,54.21 L331.46,56.30 L332.10,58.53 L332.74,60.87 L333.37,63.33 L334.00,65.90 L334.64,68.58 L335.27,71.35 L335.91,74.21 L336.55,77.15 L337.18,80.17 L337.81,83.25 L338.45,86.40 L339.08,89.60 L339.72,92.85 L340.36,96.14 L340.99,99.46 L341.62,102.81 L342.26,106.17 L342.89,109.54 L343.53,112.92 L344.17,116.29 L344.80,119.66 L345.44,123.00 L346.07,126.33 L346.70,129.62 L347.34,132.89 L347.98,136.11 L348.61,139.28 L349.25,142.40 L349.88,145.47 L350.51,148.48 L351.15,151.42 L351.79,154.30 L352.42,157.10 L353.06,159.83 L353.69,162.49 L354.32,165.06 L354.96,167.55 L355.60,169.95 L356.23,172.27 L356.87,174.50 L357.50,176.65 L358.13,178.70 L358.77,180.67 L359.41,182.55 L360.04,184.34 L360.68,186.04 L361.31,187.65 L361.94,189.18 L362.58,190.63 L363.22,191.99 L363.85,193.27 L364.49,194.47 L365.12,195.59 L365.75,196.64 L366.39,197.61 L367.03,198.51 L367.66,199.35 L368.30,200.12 L368.93,200.83 L369.56,201.49 L370.20,202.08 L370.84,202.62 L371.47,203.12 L372.11,203.56 L372.74,203.96 L373.38,204.32 L374.01,204.64 L374.65,204.93 L375.28,205.18 L375.92,205.40 L376.55,205.59 L377.19,205.76 L377.82,205.91 L378.46,206.03 L379.09,206.14 L379.73,206.23 L380.36,206.31 L381.00,206.37 L381.63,206.42 L382.26,206.46 L382.90,206.50 L383.54,206.52 L384.17,206.54 L384.81,206.56 L385.44,206.57 L386.08,206.58 L386.71,206.59 L387.35,206.59 L387.98,206.60 L388.62,206.60 L389.25,206.60 L389.89,206.60 L390.52,206.60 L391.16,206.60 L391.79,206.60 L392.43,206.60 L393.06,206.60 L393.70,206.60 L394.33,206.60 L394.97,206.60 L395.60,206.60 L396.24,206.60 L396.87,206.60 L397.50,206.60 L398.14,206.60 L398.78,206.60 L399.41,206.60 L400.05,206.60 L400.68,206.59 L401.32,206.59 L401.95,206.58 L402.59,206.57 L403.22,206.56 L403.86,206.54 L404.49,206.52 L405.12,206.50 L405.76,206.46 L406.40,206.42 L407.03,206.37 L407.67,206.31 L408.30,206.23 L408.94,206.14 L409.57,206.03 L410.21,205.91 L410.84,205.76 L411.48,205.59 L412.11,205.40 L412.75,205.18 L413.38,204.93 L414.02,204.64 L414.65,204.32 L415.29,203.96 L415.92,203.56 L416.56,203.12 L417.19,202.62 L417.83,202.08 L418.46,201.49 L419.10,200.83 L419.73,200.12 L420.37,199.35 L421.00,198.51 L421.64,197.61 L422.27,196.64 L422.91,195.59 L423.54,194.47 L424.18,193.27 L424.81,191.99 L425.45,190.63 L426.08,189.18 L426.72,187.65 L427.35,186.04 L427.99,184.34 L428.62,182.55 L429.26,180.67 L429.89,178.70 L430.53,176.65 L431.16,174.50 L431.80,172.27 L432.43,169.95 L433.07,167.55 L433.70,165.06"/><path d="M306.70,189.36 L307.33,187.58 L307.97,185.68 L308.60,183.64 L309.24,181.48 L309.88,179.18 L310.51,176.75 L311.14,174.19 L311.78,171.48 L312.41,168.65 L313.05,165.68 L313.69,162.58 L314.32,159.35 L314.95,156.00 L315.59,152.53 L316.22,148.95 L316.86,145.26 L317.50,141.47 L318.13,137.59 L318.76,133.62 L319.40,129.58 L320.03,125.49 L320.67,121.34 L321.31,117.15 L321.94,112.93 L322.57,108.71 L323.21,104.48 L323.85,100.27 L324.48,96.09 L325.12,91.96 L325.75,87.88 L326.38,83.88 L327.02,79.97 L327.65,76.17 L328.29,72.49 L328.93,68.94 L329.56,65.55 L330.19,62.32 L330.83,59.26 L331.46,56.40 L332.10,53.75 L332.74,51.31 L333.37,49.10 L334.00,47.12 L334.64,45.39 L335.27,43.91 L335.91,42.69 L336.55,41.73 L337.18,41.05 L337.81,40.64 L338.45,40.50 L339.08,40.64 L339.72,41.05 L340.36,41.73 L340.99,42.69 L341.62,43.91 L342.26,45.39 L342.89,47.12 L343.53,49.10 L344.17,51.31 L344.80,53.75 L345.44,56.40 L346.07,59.26 L346.70,62.32 L347.34,65.55 L347.98,68.94 L348.61,72.49 L349.25,76.17 L349.88,79.97 L350.51,83.88 L351.15,87.88 L351.79,91.96 L352.42,96.09 L353.06,100.27 L353.69,104.48 L354.32,108.71 L354.96,112.93 L355.60,117.15 L356.23,121.34 L356.87,125.49 L357.50,129.58 L358.13,133.62 L358.77,137.59 L359.41,141.47 L360.04,145.26 L360.68,148.95 L361.31,152.53 L361.94,156.00 L362.58,159.35 L363.22,162.58 L363.85,165.68 L364.49,168.65 L365.12,171.48 L365.75,174.19 L366.39,176.75 L367.03,179.18 L367.66,181.48 L368.30,183.64 L368.93,185.68 L369.56,187.58 L370.20,189.36 L370.84,191.02 L371.47,192.55 L372.11,193.98 L372.74,195.29 L373.38,196.50 L374.01,197.61 L374.65,198.62 L375.28,199.54 L375.92,200.38 L376.55,201.14 L377.19,201.82 L377.82,202.44 L378.46,202.99 L379.09,203.48 L379.73,203.91 L380.36,204.29 L381.00,204.63 L381.63,204.93 L382.26,205.19 L382.90,205.41 L383.54,205.61 L384.17,205.77 L384.81,205.92 L385.44,206.04 L386.08,206.14 L386.71,206.23 L387.35,206.30 L387.98,206.36 L388.62,206.41 L389.25,206.45 L389.89,206.48 L390.52,206.51 L391.16,206.53 L391.79,206.55 L392.43,206.56 L393.06,206.57 L393.70,206.58 L394.33,206.58 L394.97,206.59 L395.60,206.59 L396.24,206.59 L396.87,206.60 L397.50,206.60 L398.14,206.60 L398.78,206.60 L399.41,206.60 L400.05,206.60 L400.68,206.60 L401.32,206.60 L401.95,206.60 L402.59,206.60 L403.22,206.60 L403.86,206.60 L404.49,206.60 L405.12,206.60 L405.76,206.60 L406.40,206.60 L407.03,206.60 L407.67,206.60 L408.30,206.60 L408.94,206.60 L409.57,206.60 L410.21,206.60 L410.84,206.60 L411.48,206.60 L412.11,206.60 L412.75,206.60 L413.38,206.60 L414.02,206.60 L414.65,206.60 L415.29,206.60 L415.92,206.60 L416.56,206.60 L417.19,206.60 L417.83,206.60 L418.46,206.60 L419.10,206.60 L419.73,206.60 L420.37,206.60 L421.00,206.60 L421.64,206.60 L422.27,206.60 L422.91,206.60 L423.54,206.59 L424.18,206.59 L424.81,206.59 L425.45,206.58 L426.08,206.58 L426.72,206.57 L427.35,206.56 L427.99,206.55 L428.62,206.53 L429.26,206.51 L429.89,206.48 L430.53,206.45 L431.16,206.41 L431.80,206.36 L432.43,206.30 L433.07,206.23 L433.70,206.14"/><path d="M306.70,206.52 L307.33,206.49 L307.97,206.46 L308.60,206.43 L309.24,206.38 L309.88,206.32 L310.51,206.25 L311.14,206.17 L311.78,206.07 L312.41,205.94 L313.05,205.80 L313.69,205.63 L314.32,205.43 L314.95,205.19 L315.59,204.92 L316.22,204.60 L316.86,204.23 L317.50,203.81 L318.13,203.33 L318.76,202.79 L319.40,202.17 L320.03,201.47 L320.67,200.69 L321.31,199.81 L321.94,198.83 L322.57,197.75 L323.21,196.55 L323.85,195.22 L324.48,193.77 L325.12,192.19 L325.75,190.46 L326.38,188.58 L327.02,186.55 L327.65,184.37 L328.29,182.02 L328.93,179.50 L329.56,176.81 L330.19,173.96 L330.83,170.93 L331.46,167.73 L332.10,164.37 L332.74,160.84 L333.37,157.14 L334.00,153.30 L334.64,149.30 L335.27,145.17 L335.91,140.90 L336.55,136.52 L337.18,132.04 L337.81,127.46 L338.45,122.81 L339.08,118.10 L339.72,113.34 L340.36,108.57 L340.99,103.80 L341.62,99.05 L342.26,94.33 L342.89,89.68 L343.53,85.12 L344.17,80.66 L344.80,76.34 L345.44,72.17 L346.07,68.17 L346.70,64.37 L347.34,60.79 L347.98,57.44 L348.61,54.35 L349.25,51.54 L349.88,49.01 L350.51,46.80 L351.15,44.90 L351.79,43.33 L352.42,42.10 L353.06,41.21 L353.69,40.68 L354.32,40.50 L354.96,40.68 L355.60,41.21 L356.23,42.10 L356.87,43.33 L357.50,44.90 L358.13,46.80 L358.77,49.01 L359.41,51.54 L360.04,54.35 L360.68,57.44 L361.31,60.79 L361.94,64.37 L362.58,68.17 L363.22,72.17 L363.85,76.34 L364.49,80.66 L365.12,85.12 L365.75,89.68 L366.39,94.33 L367.03,99.05 L367.66,103.80 L368.30,108.57 L368.93,113.34 L369.56,118.10 L370.20,122.81 L370.84,127.46 L371.47,132.04 L372.11,136.52 L372.74,140.90 L373.38,145.17 L374.01,149.30 L374.65,153.30 L375.28,157.14 L375.92,160.84 L376.55,164.37 L377.19,167.73 L377.82,170.93 L378.46,173.96 L379.09,176.81 L379.73,179.50 L380.36,182.02 L381.00,184.37 L381.63,186.55 L382.26,188.58 L382.90,190.46 L383.54,192.19 L384.17,193.77 L384.81,195.22 L385.44,196.55 L386.08,197.75 L386.71,198.83 L387.35,199.81 L387.98,200.69 L388.62,201.47 L389.25,202.17 L389.89,202.79 L390.52,203.33 L391.16,203.81 L391.79,204.23 L392.43,204.60 L393.06,204.92 L393.70,205.19 L394.33,205.43 L394.97,205.63 L395.60,205.80 L396.24,205.94 L396.87,206.07 L397.50,206.17 L398.14,206.25 L398.78,206.32 L399.41,206.38 L400.05,206.43 L400.68,206.46 L401.32,206.49 L401.95,206.52 L402.59,206.54 L403.22,206.55 L403.86,206.56 L404.49,206.57 L405.12,206.58 L405.76,206.59 L406.40,206.59 L407.03,206.59 L407.67,206.60 L408.30,206.60 L408.94,206.60 L409.57,206.60 L410.21,206.60 L410.84,206.60 L411.48,206.60 L412.11,206.60 L412.75,206.60 L413.38,206.60 L414.02,206.60 L414.65,206.60 L415.29,206.60 L415.92,206.60 L416.56,206.60 L417.19,206.60 L417.83,206.60 L418.46,206.60 L419.10,206.60 L419.73,206.60 L420.37,206.60 L421.00,206.60 L421.64,206.60 L422.27,206.60 L422.91,206.60 L423.54,206.60 L424.18,206.60 L424.81,206.60 L425.45,206.60 L426.08,206.60 L426.72,206.60 L427.35,206.60 L427.99,206.60 L428.62,206.60 L429.26,206.60 L429.89,206.60 L430.53,206.60 L431.16,206.60 L431.80,206.60 L432.43,206.60 L433.07,206.60 L433.70,206.60"/><path d="M306.70,206.60 L307.33,206.60 L307.97,206.60 L308.60,206.60 L309.24,206.60 L309.88,206.60 L310.51,206.60 L311.14,206.60 L311.78,206.60 L312.41,206.60 L313.05,206.60 L313.69,206.60 L314.32,206.60 L314.95,206.60 L315.59,206.60 L316.22,206.60 L316.86,206.60 L317.50,206.60 L318.13,206.60 L318.76,206.60 L319.40,206.59 L320.03,206.59 L320.67,206.59 L321.31,206.58 L321.94,206.58 L322.57,206.57 L323.21,206.56 L323.85,206.55 L324.48,206.53 L325.12,206.51 L325.75,206.48 L326.38,206.45 L327.02,206.41 L327.65,206.36 L328.29,206.29 L328.93,206.21 L329.56,206.12 L330.19,206.00 L330.83,205.87 L331.46,205.70 L332.10,205.51 L332.74,205.27 L333.37,205.00 L334.00,204.69 L334.64,204.32 L335.27,203.90 L335.91,203.41 L336.55,202.85 L337.18,202.21 L337.81,201.48 L338.45,200.66 L339.08,199.74 L339.72,198.71 L340.36,197.55 L340.99,196.27 L341.62,194.86 L342.26,193.29 L342.89,191.58 L343.53,189.70 L344.17,187.65 L344.80,185.43 L345.44,183.04 L346.07,180.45 L346.70,177.68 L347.34,174.72 L347.98,171.56 L348.61,168.21 L349.25,164.67 L349.88,160.95 L350.51,157.04 L351.15,152.96 L351.79,148.71 L352.42,144.30 L353.06,139.75 L353.69,135.07 L354.32,130.27 L354.96,125.38 L355.60,120.40 L356.23,115.37 L356.87,110.31 L357.50,105.23 L358.13,100.17 L358.77,95.15 L359.41,90.19 L360.04,85.33 L360.68,80.58 L361.31,75.99 L361.94,71.57 L362.58,67.35 L363.22,63.35 L363.85,59.61 L364.49,56.15 L365.12,52.99 L365.75,50.14 L366.39,47.64 L367.03,45.49 L367.66,43.71 L368.30,42.31 L368.93,41.31 L369.56,40.70 L370.20,40.50 L370.84,40.70 L371.47,41.31 L372.11,42.31 L372.74,43.71 L373.38,45.49 L374.01,47.64 L374.65,50.14 L375.28,52.99 L375.92,56.15 L376.55,59.61 L377.19,63.35 L377.82,67.35 L378.46,71.57 L379.09,75.99 L379.73,80.58 L380.36,85.33 L381.00,90.19 L381.63,95.15 L382.26,100.17 L382.90,105.23 L383.54,110.31 L384.17,115.37 L384.81,120.40 L385.44,125.38 L386.08,130.27 L386.71,135.07 L387.35,139.75 L387.98,144.30 L388.62,148.71 L389.25,152.96 L389.89,157.04 L390.52,160.95 L391.16,164.67 L391.79,168.21 L392.43,171.56 L393.06,174.72 L393.70,177.68 L394.33,180.45 L394.97,183.04 L395.60,185.43 L396.24,187.65 L396.87,189.70 L397.50,191.58 L398.14,193.29 L398.78,194.86 L399.41,196.27 L400.05,197.55 L400.68,198.71 L401.32,199.74 L401.95,200.66 L402.59,201.48 L403.22,202.21 L403.86,202.85 L404.49,203.41 L405.12,203.90 L405.76,204.32 L406.40,204.69 L407.03,205.00 L407.67,205.27 L408.30,205.51 L408.94,205.70 L409.57,205.87 L410.21,206.00 L410.84,206.12 L411.48,206.21 L412.11,206.29 L412.75,206.36 L413.38,206.41 L414.02,206.45 L414.65,206.48 L415.29,206.51 L415.92,206.53 L416.56,206.55 L417.19,206.56 L417.83,206.57 L418.46,206.58 L419.10,206.58 L419.73,206.59 L420.37,206.59 L421.00,206.59 L421.64,206.60 L422.27,206.60 L422.91,206.60 L423.54,206.60 L424.18,206.60 L424.81,206.60 L425.45,206.60 L426.08,206.60 L426.72,206.60 L427.35,206.60 L427.99,206.60 L428.62,206.60 L429.26,206.60 L429.89,206.60 L430.53,206.60 L431.16,206.60 L431.80,206.60 L432.43,206.60 L433.07,206.60 L433.70,206.60"/><path d="M306.70,206.60 L307.33,206.60 L307.97,206.60 L308.60,206.60 L309.24,206.60 L309.88,206.60 L310.51,206.60 L311.14,206.60 L311.78,206.60 L312.41,206.60 L313.05,206.60 L313.69,206.60 L314.32,206.60 L314.95,206.60 L315.59,206.60 L316.22,206.60 L316.86,206.60 L317.50,206.60 L318.13,206.60 L318.76,206.60 L319.40,206.60 L320.03,206.60 L320.67,206.60 L321.31,206.60 L321.94,206.60 L322.57,206.60 L323.21,206.60 L323.85,206.60 L324.48,206.60 L325.12,206.60 L325.75,206.60 L326.38,206.60 L327.02,206.60 L327.65,206.60 L328.29,206.60 L328.93,206.60 L329.56,206.60 L330.19,206.60 L330.83,206.60 L331.46,206.60 L332.10,206.60 L332.74,206.60 L333.37,206.59 L334.00,206.59 L334.64,206.59 L335.27,206.58 L335.91,206.57 L336.55,206.56 L337.18,206.55 L337.81,206.54 L338.45,206.52 L339.08,206.49 L339.72,206.46 L340.36,206.43 L340.99,206.38 L341.62,206.32 L342.26,206.25 L342.89,206.17 L343.53,206.07 L344.17,205.94 L344.80,205.80 L345.44,205.63 L346.07,205.43 L346.70,205.19 L347.34,204.92 L347.98,204.60 L348.61,204.23 L349.25,203.81 L349.88,203.33 L350.51,202.79 L351.15,202.17 L351.79,201.47 L352.42,200.69 L353.06,199.81 L353.69,198.83 L354.32,197.75 L354.96,196.55 L355.60,195.22 L356.23,193.77 L356.87,192.19 L357.50,190.46 L358.13,188.58 L358.77,186.55 L359.41,184.37 L360.04,182.02 L360.68,179.50 L361.31,176.81 L361.94,173.96 L362.58,170.93 L363.22,167.73 L363.85,164.37 L364.49,160.84 L365.12,157.14 L365.75,153.30 L366.39,149.30 L367.03,145.17 L367.66,140.90 L368.30,136.52 L368.93,132.04 L369.56,127.46 L370.20,122.81 L370.84,118.10 L371.47,113.34 L372.11,108.57 L372.74,103.80 L373.38,99.05 L374.01,94.33 L374.65,89.68 L375.28,85.12 L375.92,80.66 L376.55,76.34 L377.19,72.17 L377.82,68.17 L378.46,64.37 L379.09,60.79 L379.73,57.44 L380.36,54.35 L381.00,51.54 L381.63,49.01 L382.26,46.80 L382.90,44.90 L383.54,43.33 L384.17,42.10 L384.81,41.21 L385.44,40.68 L386.08,40.50 L386.71,40.68 L387.35,41.21 L387.98,42.10 L388.62,43.33 L389.25,44.90 L389.89,46.80 L390.52,49.01 L391.16,51.54 L391.79,54.35 L392.43,57.44 L393.06,60.79 L393.70,64.37 L394.33,68.17 L394.97,72.17 L395.60,76.34 L396.24,80.66 L396.87,85.12 L397.50,89.68 L398.14,94.33 L398.78,99.05 L399.41,103.80 L400.05,108.57 L400.68,113.34 L401.32,118.10 L401.95,122.81 L402.59,127.46 L403.22,132.04 L403.86,136.52 L404.49,140.90 L405.12,145.17 L405.76,149.30 L406.40,153.30 L407.03,157.14 L407.67,160.84 L408.30,164.37 L408.94,167.73 L409.57,170.93 L410.21,173.96 L410.84,176.81 L411.48,179.50 L412.11,182.02 L412.75,184.37 L413.38,186.55 L414.02,188.58 L414.65,190.46 L415.29,192.19 L415.92,193.77 L416.56,195.22 L417.19,196.55 L417.83,197.75 L418.46,198.83 L419.10,199.81 L419.73,200.69 L420.37,201.47 L421.00,202.17 L421.64,202.79 L422.27,203.33 L422.91,203.81 L423.54,204.23 L424.18,204.60 L424.81,204.92 L425.45,205.19 L426.08,205.43 L426.72,205.63 L427.35,205.80 L427.99,205.94 L428.62,206.07 L429.26,206.17 L429.89,206.25 L430.53,206.32 L431.16,206.38 L431.80,206.43 L432.43,206.46 L433.07,206.49 L433.70,206.52"/><path d="M306.70,206.14 L307.33,206.23 L307.97,206.30 L308.60,206.36 L309.24,206.41 L309.88,206.45 L310.51,206.48 L311.14,206.51 L311.78,206.53 L312.41,206.55 L313.05,206.56 L313.69,206.57 L314.32,206.58 L314.95,206.58 L315.59,206.59 L316.22,206.59 L316.86,206.59 L317.50,206.60 L318.13,206.60 L318.76,206.60 L319.40,206.60 L320.03,206.60 L320.67,206.60 L321.31,206.60 L321.94,206.60 L322.57,206.60 L323.21,206.60 L323.85,206.60 L324.48,206.60 L325.12,206.60 L325.75,206.60 L326.38,206.60 L327.02,206.60 L327.65,206.60 L328.29,206.60 L328.93,206.60 L329.56,206.60 L330.19,206.60 L330.83,206.60 L331.46,206.60 L332.10,206.60 L332.74,206.60 L333.37,206.60 L334.00,206.60 L334.64,206.60 L335.27,206.60 L335.91,206.60 L336.55,206.60 L337.18,206.60 L337.81,206.60 L338.45,206.60 L339.08,206.60 L339.72,206.60 L340.36,206.60 L340.99,206.60 L341.62,206.60 L342.26,206.60 L342.89,206.60 L343.53,206.60 L344.17,206.59 L344.80,206.59 L345.44,206.59 L346.07,206.58 L346.70,206.58 L347.34,206.57 L347.98,206.56 L348.61,206.55 L349.25,206.53 L349.88,206.51 L350.51,206.48 L351.15,206.45 L351.79,206.41 L352.42,206.36 L353.06,206.30 L353.69,206.23 L354.32,206.14 L354.96,206.04 L355.60,205.92 L356.23,205.77 L356.87,205.61 L357.50,205.41 L358.13,205.19 L358.77,204.93 L359.41,204.63 L360.04,204.29 L360.68,203.91 L361.31,203.48 L361.94,202.99 L362.58,202.44 L363.22,201.82 L363.85,201.14 L364.49,200.38 L365.12,199.54 L365.75,198.62 L366.39,197.61 L367.03,196.50 L367.66,195.29 L368.30,193.98 L368.93,192.55 L369.56,191.02 L370.20,189.36 L370.84,187.58 L371.47,185.68 L372.11,183.64 L372.74,181.48 L373.38,179.18 L374.01,176.75 L374.65,174.19 L375.28,171.48 L375.92,168.65 L376.55,165.68 L377.19,162.58 L377.82,159.35 L378.46,156.00 L379.09,152.53 L379.73,148.95 L380.36,145.26 L381.00,141.47 L381.63,137.59 L382.26,133.62 L382.90,129.58 L383.54,125.49 L384.17,121.34 L384.81,117.15 L385.44,112.93 L386.08,108.71 L386.71,104.48 L387.35,100.27 L387.98,96.09 L388.62,91.96 L389.25,87.88 L389.89,83.88 L390.52,79.97 L391.16,76.17 L391.79,72.49 L392.43,68.94 L393.06,65.55 L393.70,62.32 L394.33,59.26 L394.97,56.40 L395.60,53.75 L396.24,51.31 L396.87,49.10 L397.50,47.12 L398.14,45.39 L398.78,43.91 L399.41,42.69 L400.05,41.73 L400.68,41.05 L401.32,40.64 L401.95,40.50 L402.59,40.64 L403.22,41.05 L403.86,41.73 L404.49,42.69 L405.12,43.91 L405.76,45.39 L406.40,47.12 L407.03,49.10 L407.67,51.31 L408.30,53.75 L408.94,56.40 L409.57,59.26 L410.21,62.32 L410.84,65.55 L411.48,68.94 L412.11,72.49 L412.75,76.17 L413.38,79.97 L414.02,83.88 L414.65,87.88 L415.29,91.96 L415.92,96.09 L416.56,100.27 L417.19,104.48 L417.83,108.71 L418.46,112.93 L419.10,117.15 L419.73,121.34 L420.37,125.49 L421.00,129.58 L421.64,133.62 L422.27,137.59 L422.91,141.47 L423.54,145.26 L424.18,148.95 L424.81,152.53 L425.45,156.00 L426.08,159.35 L426.72,162.58 L427.35,165.68 L427.99,168.65 L428.62,171.48 L429.26,174.19 L429.89,176.75 L430.53,179.18 L431.16,181.48 L431.80,183.64 L432.43,185.68 L433.07,187.58 L433.70,189.36"/><path d="M306.70,165.06 L307.33,167.55 L307.97,169.95 L308.60,172.27 L309.24,174.50 L309.88,176.65 L310.51,178.70 L311.14,180.67 L311.78,182.55 L312.41,184.34 L313.05,186.04 L313.69,187.65 L314.32,189.18 L314.95,190.63 L315.59,191.99 L316.22,193.27 L316.86,194.47 L317.50,195.59 L318.13,196.64 L318.76,197.61 L319.40,198.51 L320.03,199.35 L320.67,200.12 L321.31,200.83 L321.94,201.49 L322.57,202.08 L323.21,202.62 L323.85,203.12 L324.48,203.56 L325.12,203.96 L325.75,204.32 L326.38,204.64 L327.02,204.93 L327.65,205.18 L328.29,205.40 L328.93,205.59 L329.56,205.76 L330.19,205.91 L330.83,206.03 L331.46,206.14 L332.10,206.23 L332.74,206.31 L333.37,206.37 L334.00,206.42 L334.64,206.46 L335.27,206.50 L335.91,206.52 L336.55,206.54 L337.18,206.56 L337.81,206.57 L338.45,206.58 L339.08,206.59 L339.72,206.59 L340.36,206.60 L340.99,206.60 L341.62,206.60 L342.26,206.60 L342.89,206.60 L343.53,206.60 L344.17,206.60 L344.80,206.60 L345.44,206.60 L346.07,206.60 L346.70,206.60 L347.34,206.60 L347.98,206.60 L348.61,206.60 L349.25,206.60 L349.88,206.60 L350.51,206.60 L351.15,206.60 L351.79,206.60 L352.42,206.60 L353.06,206.59 L353.69,206.59 L354.32,206.58 L354.96,206.57 L355.60,206.56 L356.23,206.54 L356.87,206.52 L357.50,206.50 L358.13,206.46 L358.77,206.42 L359.41,206.37 L360.04,206.31 L360.68,206.23 L361.31,206.14 L361.94,206.03 L362.58,205.91 L363.22,205.76 L363.85,205.59 L364.49,205.40 L365.12,205.18 L365.75,204.93 L366.39,204.64 L367.03,204.32 L367.66,203.96 L368.30,203.56 L368.93,203.12 L369.56,202.62 L370.20,202.08 L370.84,201.49 L371.47,200.83 L372.11,200.12 L372.74,199.35 L373.38,198.51 L374.01,197.61 L374.65,196.64 L375.28,195.59 L375.92,194.47 L376.55,193.27 L377.19,191.99 L377.82,190.63 L378.46,189.18 L379.09,187.65 L379.73,186.04 L380.36,184.34 L381.00,182.55 L381.63,180.67 L382.26,178.70 L382.90,176.65 L383.54,174.50 L384.17,172.27 L384.81,169.95 L385.44,167.55 L386.08,165.06 L386.71,162.49 L387.35,159.83 L387.98,157.10 L388.62,154.30 L389.25,151.42 L389.89,148.48 L390.52,145.47 L391.16,142.40 L391.79,139.28 L392.43,136.11 L393.06,132.89 L393.70,129.62 L394.33,126.33 L394.97,123.00 L395.60,119.66 L396.24,116.29 L396.87,112.92 L397.50,109.54 L398.14,106.17 L398.78,102.81 L399.41,99.46 L400.05,96.14 L400.68,92.85 L401.32,89.60 L401.95,86.40 L402.59,83.25 L403.22,80.17 L403.86,77.15 L404.49,74.21 L405.12,71.35 L405.76,68.58 L406.40,65.90 L407.03,63.33 L407.67,60.87 L408.30,58.53 L408.94,56.30 L409.57,54.21 L410.21,52.25 L410.84,50.42 L411.48,48.74 L412.11,47.20 L412.75,45.81 L413.38,44.58 L414.02,43.51 L414.65,42.59 L415.29,41.84 L415.92,41.26 L416.56,40.84 L417.19,40.58 L417.83,40.50 L418.46,40.58 L419.10,40.84 L419.73,41.26 L420.37,41.84 L421.00,42.59 L421.64,43.51 L422.27,44.58 L422.91,45.81 L423.54,47.20 L424.18,48.74 L424.81,50.42 L425.45,52.25 L426.08,54.21 L426.72,56.30 L427.35,58.53 L427.99,60.87 L428.62,63.33 L429.26,65.90 L429.89,68.58 L430.53,71.35 L431.16,74.21 L431.80,77.15 L432.43,80.17 L433.07,83.25 L433.70,86.40"/><path d="M306.70,81.83 L307.33,84.78 L307.97,87.77 L308.60,90.82 L309.24,93.90 L309.88,97.02 L310.51,100.17 L311.14,103.34 L311.78,106.52 L312.41,109.72 L313.05,112.91 L313.69,116.11 L314.32,119.30 L314.95,122.48 L315.59,125.64 L316.22,128.78 L316.86,131.89 L317.50,134.96 L318.13,138.00 L318.76,140.99 L319.40,143.94 L320.03,146.84 L320.67,149.68 L321.31,152.47 L321.94,155.19 L322.57,157.85 L323.21,160.45 L323.85,162.97 L324.48,165.42 L325.12,167.80 L325.75,170.10 L326.38,172.33 L327.02,174.47 L327.65,176.54 L328.29,178.53 L328.93,180.44 L329.56,182.26 L330.19,184.01 L330.83,185.67 L331.46,187.26 L332.10,188.76 L332.74,190.19 L333.37,191.54 L334.00,192.81 L334.64,194.01 L335.27,195.14 L335.91,196.20 L336.55,197.18 L337.18,198.10 L337.81,198.96 L338.45,199.75 L339.08,200.48 L339.72,201.16 L340.36,201.78 L340.99,202.34 L341.62,202.86 L342.26,203.33 L342.89,203.75 L343.53,204.14 L344.17,204.48 L344.80,204.79 L345.44,205.06 L346.07,205.30 L346.70,205.51 L347.34,205.69 L347.98,205.85 L348.61,205.99 L349.25,206.11 L349.88,206.20 L350.51,206.29 L351.15,206.36 L351.79,206.41 L352.42,206.46 L353.06,206.50 L353.69,206.53 L354.32,206.55 L354.96,206.56 L355.60,206.58 L356.23,206.58 L356.87,206.59 L357.50,206.59 L358.13,206.60 L358.77,206.60 L359.41,206.60 L360.04,206.60 L360.68,206.60 L361.31,206.60 L361.94,206.60 L362.58,206.60 L363.22,206.60 L363.85,206.60 L364.49,206.60 L365.12,206.60 L365.75,206.60 L366.39,206.60 L367.03,206.59 L367.66,206.59 L368.30,206.58 L368.93,206.58 L369.56,206.56 L370.20,206.55 L370.84,206.53 L371.47,206.50 L372.11,206.46 L372.74,206.41 L373.38,206.36 L374.01,206.29 L374.65,206.20 L375.28,206.11 L375.92,205.99 L376.55,205.85 L377.19,205.69 L377.82,205.51 L378.46,205.30 L379.09,205.06 L379.73,204.79 L380.36,204.48 L381.00,204.14 L381.63,203.75 L382.26,203.33 L382.90,202.86 L383.54,202.34 L384.17,201.78 L384.81,201.16 L385.44,200.48 L386.08,199.75 L386.71,198.96 L387.35,198.10 L387.98,197.18 L388.62,196.20 L389.25,195.14 L389.89,194.01 L390.52,192.81 L391.16,191.54 L391.79,190.19 L392.43,188.76 L393.06,187.26 L393.70,185.67 L394.33,184.01 L394.97,182.26 L395.60,180.44 L396.24,178.53 L396.87,176.54 L397.50,174.47 L398.14,172.33 L398.78,170.10 L399.41,167.80 L400.05,165.42 L400.68,162.97 L401.32,160.45 L401.95,157.85 L402.59,155.19 L403.22,152.47 L403.86,149.68 L404.49,146.84 L405.12,143.94 L405.76,140.99 L406.40,138.00 L407.03,134.96 L407.67,131.89 L408.30,128.78 L408.94,125.64 L409.57,122.48 L410.21,119.30 L410.84,116.11 L411.48,112.91 L412.11,109.72 L412.75,106.52 L413.38,103.34 L414.02,100.17 L414.65,97.02 L415.29,93.90 L415.92,90.82 L416.56,87.77 L417.19,84.78 L417.83,81.83 L418.46,78.95 L419.10,76.12 L419.73,73.37 L420.37,70.70 L421.00,68.10 L421.64,65.60 L422.27,63.18 L422.91,60.87 L423.54,58.66 L424.18,56.55 L424.81,54.56 L425.45,52.69 L426.08,50.93 L426.72,49.31 L427.35,47.81 L427.99,46.44 L428.62,45.21 L429.26,44.12 L429.89,43.16 L430.53,42.35 L431.16,41.69 L431.80,41.17 L432.43,40.80 L433.07,40.57 L433.70,40.50"/></g><rect x="305.80" y="40.50" width="126.30" height="166.10" fill="none" stroke="#000" stroke-width="3"/><g clip-path="url(#c2)" fill="none" stroke="#000" stroke-width="1.9"><path d="M480.10,40.50 L480.74,40.66 L481.37,41.15 L482.01,41.95 L482.64,43.07 L483.28,44.50 L483.92,46.23 L484.55,48.26 L485.19,50.57 L485.82,53.14 L486.46,55.97 L487.10,59.05 L487.73,62.35 L488.37,65.86 L489.00,69.56 L489.64,73.43 L490.28,77.45 L490.91,81.61 L491.55,85.89 L492.18,90.26 L492.82,94.71 L493.46,99.22 L494.09,103.76 L494.73,108.32 L495.36,112.88 L496.00,117.43 L496.64,121.94 L497.27,126.40 L497.91,130.80 L498.54,135.12 L499.18,139.35 L499.82,143.48 L500.45,147.49 L501.09,151.39 L501.72,155.15 L502.36,158.77 L503.00,162.25 L503.63,165.58 L504.27,168.75 L504.90,171.78 L505.54,174.64 L506.18,177.35 L506.81,179.91 L507.45,182.31 L508.08,184.55 L508.72,186.65 L509.36,188.60 L509.99,190.41 L510.63,192.08 L511.26,193.63 L511.90,195.04 L512.54,196.34 L513.17,197.52 L513.81,198.59 L514.44,199.56 L515.08,200.44 L515.72,201.23 L516.35,201.93 L516.99,202.56 L517.62,203.12 L518.26,203.61 L518.90,204.05 L519.53,204.43 L520.17,204.76 L520.80,205.05 L521.44,205.30 L522.08,205.52 L522.71,205.70 L523.35,205.86 L523.98,205.99 L524.62,206.10 L525.26,206.20 L525.89,206.28 L526.53,206.34 L527.16,206.39 L527.80,206.44 L528.44,206.47 L529.07,206.50 L529.71,206.52 L530.34,206.54 L530.98,206.56 L531.62,206.57 L532.25,206.58 L532.89,206.58 L533.52,206.59 L534.16,206.59 L534.80,206.59 L535.43,206.60 L536.07,206.60 L536.70,206.60 L537.34,206.60 L537.98,206.60 L538.61,206.60 L539.25,206.60 L539.88,206.60 L540.52,206.60 L541.16,206.60 L541.79,206.60 L542.43,206.60 L543.06,206.60 L543.70,206.60 L544.34,206.60 L544.97,206.60 L545.61,206.60 L546.24,206.60 L546.88,206.60 L547.52,206.60 L548.15,206.60 L548.79,206.60 L549.42,206.60 L550.06,206.60 L550.70,206.60 L551.33,206.60 L551.97,206.60 L552.60,206.60 L553.24,206.60 L553.88,206.60 L554.51,206.60 L555.15,206.60 L555.78,206.60 L556.42,206.60 L557.06,206.60 L557.69,206.60 L558.33,206.60 L558.96,206.60 L559.60,206.60 L560.24,206.60 L560.87,206.60 L561.51,206.60 L562.14,206.60 L562.78,206.60 L563.42,206.60 L564.05,206.60 L564.69,206.60 L565.32,206.60 L565.96,206.60 L566.60,206.60 L567.23,206.60 L567.87,206.60 L568.50,206.59 L569.14,206.59 L569.78,206.59 L570.41,206.58 L571.05,206.58 L571.68,206.57 L572.32,206.56 L572.96,206.54 L573.59,206.52 L574.23,206.50 L574.86,206.47 L575.50,206.44 L576.14,206.39 L576.77,206.34 L577.41,206.28 L578.04,206.20 L578.68,206.10 L579.32,205.99 L579.95,205.86 L580.59,205.70 L581.22,205.52 L581.86,205.30 L582.50,205.05 L583.13,204.76 L583.77,204.43 L584.40,204.05 L585.04,203.61 L585.68,203.12 L586.31,202.56 L586.95,201.93 L587.58,201.23 L588.22,200.44 L588.86,199.56 L589.49,198.59 L590.13,197.52 L590.76,196.34 L591.40,195.04 L592.04,193.63 L592.67,192.08 L593.31,190.41 L593.94,188.60 L594.58,186.65 L595.22,184.55 L595.85,182.31 L596.49,179.91 L597.12,177.35 L597.76,174.64 L598.40,171.78 L599.03,168.75 L599.67,165.58 L600.30,162.25 L600.94,158.77 L601.58,155.15 L602.21,151.39 L602.85,147.49 L603.48,143.48 L604.12,139.35 L604.76,135.12 L605.39,130.80 L606.03,126.40 L606.66,121.94 L607.30,117.43"/><path d="M480.10,117.43 L480.74,112.88 L481.37,108.32 L482.01,103.76 L482.64,99.22 L483.28,94.71 L483.92,90.26 L484.55,85.89 L485.19,81.61 L485.82,77.45 L486.46,73.43 L487.10,69.56 L487.73,65.86 L488.37,62.35 L489.00,59.05 L489.64,55.97 L490.28,53.14 L490.91,50.57 L491.55,48.26 L492.18,46.23 L492.82,44.50 L493.46,43.07 L494.09,41.95 L494.73,41.15 L495.36,40.66 L496.00,40.50 L496.64,40.66 L497.27,41.15 L497.91,41.95 L498.54,43.07 L499.18,44.50 L499.82,46.23 L500.45,48.26 L501.09,50.57 L501.72,53.14 L502.36,55.97 L503.00,59.05 L503.63,62.35 L504.27,65.86 L504.90,69.56 L505.54,73.43 L506.18,77.45 L506.81,81.61 L507.45,85.89 L508.08,90.26 L508.72,94.71 L509.36,99.22 L509.99,103.76 L510.63,108.32 L511.26,112.88 L511.90,117.43 L512.54,121.94 L513.17,126.40 L513.81,130.80 L514.44,135.12 L515.08,139.35 L515.72,143.48 L516.35,147.49 L516.99,151.39 L517.62,155.15 L518.26,158.77 L518.90,162.25 L519.53,165.58 L520.17,168.75 L520.80,171.78 L521.44,174.64 L522.08,177.35 L522.71,179.91 L523.35,182.31 L523.98,184.55 L524.62,186.65 L525.26,188.60 L525.89,190.41 L526.53,192.08 L527.16,193.63 L527.80,195.04 L528.44,196.34 L529.07,197.52 L529.71,198.59 L530.34,199.56 L530.98,200.44 L531.62,201.23 L532.25,201.93 L532.89,202.56 L533.52,203.12 L534.16,203.61 L534.80,204.05 L535.43,204.43 L536.07,204.76 L536.70,205.05 L537.34,205.30 L537.98,205.52 L538.61,205.70 L539.25,205.86 L539.88,205.99 L540.52,206.10 L541.16,206.20 L541.79,206.28 L542.43,206.34 L543.06,206.39 L543.70,206.44 L544.34,206.47 L544.97,206.50 L545.61,206.52 L546.24,206.54 L546.88,206.56 L547.52,206.57 L548.15,206.58 L548.79,206.58 L549.42,206.59 L550.06,206.59 L550.70,206.59 L551.33,206.60 L551.97,206.60 L552.60,206.60 L553.24,206.60 L553.88,206.60 L554.51,206.60 L555.15,206.60 L555.78,206.60 L556.42,206.60 L557.06,206.60 L557.69,206.60 L558.33,206.60 L558.96,206.60 L559.60,206.60 L560.24,206.60 L560.87,206.60 L561.51,206.60 L562.14,206.60 L562.78,206.60 L563.42,206.60 L564.05,206.60 L564.69,206.60 L565.32,206.60 L565.96,206.60 L566.60,206.60 L567.23,206.60 L567.87,206.60 L568.50,206.60 L569.14,206.60 L569.78,206.60 L570.41,206.60 L571.05,206.60 L571.68,206.60 L572.32,206.60 L572.96,206.60 L573.59,206.60 L574.23,206.60 L574.86,206.60 L575.50,206.60 L576.14,206.60 L576.77,206.60 L577.41,206.60 L578.04,206.60 L578.68,206.60 L579.32,206.60 L579.95,206.60 L580.59,206.60 L581.22,206.60 L581.86,206.60 L582.50,206.60 L583.13,206.60 L583.77,206.60 L584.40,206.59 L585.04,206.59 L585.68,206.59 L586.31,206.58 L586.95,206.58 L587.58,206.57 L588.22,206.56 L588.86,206.54 L589.49,206.52 L590.13,206.50 L590.76,206.47 L591.40,206.44 L592.04,206.39 L592.67,206.34 L593.31,206.28 L593.94,206.20 L594.58,206.10 L595.22,205.99 L595.85,205.86 L596.49,205.70 L597.12,205.52 L597.76,205.30 L598.40,205.05 L599.03,204.76 L599.67,204.43 L600.30,204.05 L600.94,203.61 L601.58,203.12 L602.21,202.56 L602.85,201.93 L603.48,201.23 L604.12,200.44 L604.76,199.56 L605.39,198.59 L606.03,197.52 L606.66,196.34 L607.30,195.04"/><path d="M480.10,197.23 L480.74,196.02 L481.37,194.70 L482.01,193.25 L482.64,191.68 L483.28,189.97 L483.92,188.13 L484.55,186.14 L485.19,184.00 L485.82,181.72 L486.46,179.28 L487.10,176.69 L487.73,173.94 L488.37,171.03 L489.00,167.97 L489.64,164.76 L490.28,161.39 L490.91,157.88 L491.55,154.22 L492.18,150.42 L492.82,146.50 L493.46,142.46 L494.09,138.30 L494.73,134.05 L495.36,129.71 L496.00,125.29 L496.64,120.82 L497.27,116.29 L497.91,111.74 L498.54,107.18 L499.18,102.62 L499.82,98.09 L500.45,93.59 L501.09,89.16 L501.72,84.81 L502.36,80.56 L503.00,76.43 L503.63,72.44 L504.27,68.61 L504.90,64.96 L505.54,61.50 L506.18,58.26 L506.81,55.24 L507.45,52.47 L508.08,49.96 L508.72,47.73 L509.36,45.77 L509.99,44.12 L510.63,42.76 L511.26,41.72 L511.90,41.00 L512.54,40.59 L513.17,40.51 L513.81,40.75 L514.44,41.32 L515.08,42.20 L515.72,43.40 L516.35,44.91 L516.99,46.71 L517.62,48.81 L518.26,51.19 L518.90,53.83 L519.53,56.72 L520.17,59.85 L520.80,63.21 L521.44,66.76 L522.08,70.51 L522.71,74.42 L523.35,78.48 L523.98,82.67 L524.62,86.98 L525.26,91.37 L525.89,95.83 L526.53,100.35 L527.16,104.90 L527.80,109.46 L528.44,114.02 L529.07,118.56 L529.71,123.06 L530.34,127.51 L530.98,131.89 L531.62,136.19 L532.25,140.40 L532.89,144.49 L533.52,148.48 L534.16,152.34 L534.80,156.06 L535.43,159.65 L536.07,163.09 L536.70,166.38 L537.34,169.52 L537.98,172.51 L538.61,175.33 L539.25,178.01 L539.88,180.52 L540.52,182.88 L541.16,185.09 L541.79,187.15 L542.43,189.07 L543.06,190.84 L543.70,192.48 L544.34,193.99 L544.97,195.38 L545.61,196.64 L546.24,197.80 L546.88,198.84 L547.52,199.79 L548.15,200.64 L548.79,201.41 L549.42,202.09 L550.06,202.71 L550.70,203.25 L551.33,203.73 L551.97,204.15 L552.60,204.52 L553.24,204.84 L553.88,205.12 L554.51,205.36 L555.15,205.56 L555.78,205.74 L556.42,205.89 L557.06,206.02 L557.69,206.13 L558.33,206.22 L558.96,206.29 L559.60,206.36 L560.24,206.41 L560.87,206.45 L561.51,206.48 L562.14,206.51 L562.78,206.53 L563.42,206.55 L564.05,206.56 L564.69,206.57 L565.32,206.58 L565.96,206.58 L566.60,206.59 L567.23,206.59 L567.87,206.59 L568.50,206.60 L569.14,206.60 L569.78,206.60 L570.41,206.60 L571.05,206.60 L571.68,206.60 L572.32,206.60 L572.96,206.60 L573.59,206.60 L574.23,206.60 L574.86,206.60 L575.50,206.60 L576.14,206.60 L576.77,206.60 L577.41,206.60 L578.04,206.60 L578.68,206.60 L579.32,206.60 L579.95,206.60 L580.59,206.60 L581.22,206.60 L581.86,206.60 L582.50,206.60 L583.13,206.60 L583.77,206.60 L584.40,206.60 L585.04,206.60 L585.68,206.60 L586.31,206.60 L586.95,206.60 L587.58,206.60 L588.22,206.60 L588.86,206.60 L589.49,206.60 L590.13,206.60 L590.76,206.60 L591.40,206.60 L592.04,206.60 L592.67,206.60 L593.31,206.60 L593.94,206.60 L594.58,206.60 L595.22,206.60 L595.85,206.60 L596.49,206.60 L597.12,206.60 L597.76,206.60 L598.40,206.60 L599.03,206.60 L599.67,206.60 L600.30,206.60 L600.94,206.60 L601.58,206.59 L602.21,206.59 L602.85,206.59 L603.48,206.58 L604.12,206.57 L604.76,206.56 L605.39,206.55 L606.03,206.54 L606.66,206.52 L607.30,206.50"/><path d="M480.10,206.56 L480.74,206.55 L481.37,206.53 L482.01,206.51 L482.64,206.49 L483.28,206.46 L483.92,206.42 L484.55,206.37 L485.19,206.31 L485.82,206.24 L486.46,206.15 L487.10,206.05 L487.73,205.93 L488.37,205.78 L489.00,205.61 L489.64,205.41 L490.28,205.18 L490.91,204.91 L491.55,204.60 L492.18,204.24 L492.82,203.84 L493.46,203.37 L494.09,202.85 L494.73,202.25 L495.36,201.59 L496.00,200.84 L496.64,200.01 L497.27,199.09 L497.91,198.07 L498.54,196.94 L499.18,195.70 L499.82,194.35 L500.45,192.87 L501.09,191.26 L501.72,189.52 L502.36,187.64 L503.00,185.62 L503.63,183.45 L504.27,181.13 L504.90,178.65 L505.54,176.02 L506.18,173.23 L506.81,170.28 L507.45,167.18 L508.08,163.93 L508.72,160.53 L509.36,156.97 L509.99,153.28 L510.63,149.46 L511.26,145.50 L511.90,141.43 L512.54,137.25 L513.17,132.97 L513.81,128.61 L514.44,124.18 L515.08,119.69 L515.72,115.16 L516.35,110.60 L516.99,106.04 L517.62,101.48 L518.26,96.96 L518.90,92.48 L519.53,88.07 L520.17,83.74 L520.80,79.52 L521.44,75.42 L522.08,71.47 L522.71,67.68 L523.35,64.08 L523.98,60.67 L524.62,57.48 L525.26,54.53 L525.89,51.82 L526.53,49.38 L527.16,47.21 L527.80,45.33 L528.44,43.75 L529.07,42.47 L529.71,41.51 L530.34,40.86 L530.98,40.54 L531.62,40.54 L532.25,40.86 L532.89,41.51 L533.52,42.47 L534.16,43.75 L534.80,45.33 L535.43,47.21 L536.07,49.38 L536.70,51.82 L537.34,54.53 L537.98,57.48 L538.61,60.67 L539.25,64.08 L539.88,67.68 L540.52,71.47 L541.16,75.42 L541.79,79.52 L542.43,83.74 L543.06,88.07 L543.70,92.48 L544.34,96.96 L544.97,101.48 L545.61,106.04 L546.24,110.60 L546.88,115.16 L547.52,119.69 L548.15,124.18 L548.79,128.61 L549.42,132.97 L550.06,137.25 L550.70,141.43 L551.33,145.50 L551.97,149.46 L552.60,153.28 L553.24,156.97 L553.88,160.53 L554.51,163.93 L555.15,167.18 L555.78,170.28 L556.42,173.23 L557.06,176.02 L557.69,178.65 L558.33,181.13 L558.96,183.45 L559.60,185.62 L560.24,187.64 L560.87,189.52 L561.51,191.26 L562.14,192.87 L562.78,194.35 L563.42,195.70 L564.05,196.94 L564.69,198.07 L565.32,199.09 L565.96,200.01 L566.60,200.84 L567.23,201.59 L567.87,202.25 L568.50,202.85 L569.14,203.37 L569.78,203.84 L570.41,204.24 L571.05,204.60 L571.68,204.91 L572.32,205.18 L572.96,205.41 L573.59,205.61 L574.23,205.78 L574.86,205.93 L575.50,206.05 L576.14,206.15 L576.77,206.24 L577.41,206.31 L578.04,206.37 L578.68,206.42 L579.32,206.46 L579.95,206.49 L580.59,206.51 L581.22,206.53 L581.86,206.55 L582.50,206.56 L583.13,206.57 L583.77,206.58 L584.40,206.59 L585.04,206.59 L585.68,206.59 L586.31,206.59 L586.95,206.60 L587.58,206.60 L588.22,206.60 L588.86,206.60 L589.49,206.60 L590.13,206.60 L590.76,206.60 L591.40,206.60 L592.04,206.60 L592.67,206.60 L593.31,206.60 L593.94,206.60 L594.58,206.60 L595.22,206.60 L595.85,206.60 L596.49,206.60 L597.12,206.60 L597.76,206.60 L598.40,206.60 L599.03,206.60 L599.67,206.60 L600.30,206.60 L600.94,206.60 L601.58,206.60 L602.21,206.60 L602.85,206.60 L603.48,206.60 L604.12,206.60 L604.76,206.60 L605.39,206.60 L606.03,206.60 L606.66,206.60 L607.30,206.60"/><path d="M480.10,206.60 L480.74,206.60 L481.37,206.60 L482.01,206.60 L482.64,206.60 L483.28,206.60 L483.92,206.60 L484.55,206.60 L485.19,206.60 L485.82,206.60 L486.46,206.60 L487.10,206.60 L487.73,206.60 L488.37,206.60 L489.00,206.59 L489.64,206.59 L490.28,206.59 L490.91,206.58 L491.55,206.58 L492.18,206.57 L492.82,206.56 L493.46,206.54 L494.09,206.52 L494.73,206.50 L495.36,206.47 L496.00,206.44 L496.64,206.39 L497.27,206.34 L497.91,206.28 L498.54,206.20 L499.18,206.10 L499.82,205.99 L500.45,205.86 L501.09,205.70 L501.72,205.52 L502.36,205.30 L503.00,205.05 L503.63,204.76 L504.27,204.43 L504.90,204.05 L505.54,203.61 L506.18,203.12 L506.81,202.56 L507.45,201.93 L508.08,201.23 L508.72,200.44 L509.36,199.56 L509.99,198.59 L510.63,197.52 L511.26,196.34 L511.90,195.04 L512.54,193.63 L513.17,192.08 L513.81,190.41 L514.44,188.60 L515.08,186.65 L515.72,184.55 L516.35,182.31 L516.99,179.91 L517.62,177.35 L518.26,174.64 L518.90,171.78 L519.53,168.75 L520.17,165.58 L520.80,162.25 L521.44,158.77 L522.08,155.15 L522.71,151.39 L523.35,147.49 L523.98,143.48 L524.62,139.35 L525.26,135.12 L525.89,130.80 L526.53,126.40 L527.16,121.94 L527.80,117.43 L528.44,112.88 L529.07,108.32 L529.71,103.76 L530.34,99.22 L530.98,94.71 L531.62,90.26 L532.25,85.89 L532.89,81.61 L533.52,77.45 L534.16,73.43 L534.80,69.56 L535.43,65.86 L536.07,62.35 L536.70,59.05 L537.34,55.97 L537.98,53.14 L538.61,50.57 L539.25,48.26 L539.88,46.23 L540.52,44.50 L541.16,43.07 L541.79,41.95 L542.43,41.15 L543.06,40.66 L543.70,40.50 L544.34,40.66 L544.97,41.15 L545.61,41.95 L546.24,43.07 L546.88,44.50 L547.52,46.23 L548.15,48.26 L548.79,50.57 L549.42,53.14 L550.06,55.97 L550.70,59.05 L551.33,62.35 L551.97,65.86 L552.60,69.56 L553.24,73.43 L553.88,77.45 L554.51,81.61 L555.15,85.89 L555.78,90.26 L556.42,94.71 L557.06,99.22 L557.69,103.76 L558.33,108.32 L558.96,112.88 L559.60,117.43 L560.24,121.94 L560.87,126.40 L561.51,130.80 L562.14,135.12 L562.78,139.35 L563.42,143.48 L564.05,147.49 L564.69,151.39 L565.32,155.15 L565.96,158.77 L566.60,162.25 L567.23,165.58 L567.87,168.75 L568.50,171.78 L569.14,174.64 L569.78,177.35 L570.41,179.91 L571.05,182.31 L571.68,184.55 L572.32,186.65 L572.96,188.60 L573.59,190.41 L574.23,192.08 L574.86,193.63 L575.50,195.04 L576.14,196.34 L576.77,197.52 L577.41,198.59 L578.04,199.56 L578.68,200.44 L579.32,201.23 L579.95,201.93 L580.59,202.56 L581.22,203.12 L581.86,203.61 L582.50,204.05 L583.13,204.43 L583.77,204.76 L584.40,205.05 L585.04,205.30 L585.68,205.52 L586.31,205.70 L586.95,205.86 L587.58,205.99 L588.22,206.10 L588.86,206.20 L589.49,206.28 L590.13,206.34 L590.76,206.39 L591.40,206.44 L592.04,206.47 L592.67,206.50 L593.31,206.52 L593.94,206.54 L594.58,206.56 L595.22,206.57 L595.85,206.58 L596.49,206.58 L597.12,206.59 L597.76,206.59 L598.40,206.59 L599.03,206.60 L599.67,206.60 L600.30,206.60 L600.94,206.60 L601.58,206.60 L602.21,206.60 L602.85,206.60 L603.48,206.60 L604.12,206.60 L604.76,206.60 L605.39,206.60 L606.03,206.60 L606.66,206.60 L607.30,206.60"/><path d="M480.10,206.60 L480.74,206.60 L481.37,206.60 L482.01,206.60 L482.64,206.60 L483.28,206.60 L483.92,206.60 L484.55,206.60 L485.19,206.60 L485.82,206.60 L486.46,206.60 L487.10,206.60 L487.73,206.60 L488.37,206.60 L489.00,206.60 L489.64,206.60 L490.28,206.60 L490.91,206.60 L491.55,206.60 L492.18,206.60 L492.82,206.60 L493.46,206.60 L494.09,206.60 L494.73,206.60 L495.36,206.60 L496.00,206.60 L496.64,206.60 L497.27,206.60 L497.91,206.60 L498.54,206.60 L499.18,206.60 L499.82,206.60 L500.45,206.60 L501.09,206.59 L501.72,206.59 L502.36,206.59 L503.00,206.59 L503.63,206.58 L504.27,206.57 L504.90,206.56 L505.54,206.55 L506.18,206.53 L506.81,206.51 L507.45,206.49 L508.08,206.46 L508.72,206.42 L509.36,206.37 L509.99,206.31 L510.63,206.24 L511.26,206.15 L511.90,206.05 L512.54,205.93 L513.17,205.78 L513.81,205.61 L514.44,205.41 L515.08,205.18 L515.72,204.91 L516.35,204.60 L516.99,204.24 L517.62,203.84 L518.26,203.37 L518.90,202.85 L519.53,202.25 L520.17,201.59 L520.80,200.84 L521.44,200.01 L522.08,199.09 L522.71,198.07 L523.35,196.94 L523.98,195.70 L524.62,194.35 L525.26,192.87 L525.89,191.26 L526.53,189.52 L527.16,187.64 L527.80,185.62 L528.44,183.45 L529.07,181.13 L529.71,178.65 L530.34,176.02 L530.98,173.23 L531.62,170.28 L532.25,167.18 L532.89,163.93 L533.52,160.53 L534.16,156.97 L534.80,153.28 L535.43,149.46 L536.07,145.50 L536.70,141.43 L537.34,137.25 L537.98,132.97 L538.61,128.61 L539.25,124.18 L539.88,119.69 L540.52,115.16 L541.16,110.60 L541.79,106.04 L542.43,101.48 L543.06,96.96 L543.70,92.48 L544.34,88.07 L544.97,83.74 L545.61,79.52 L546.24,75.42 L546.88,71.47 L547.52,67.68 L548.15,64.08 L548.79,60.67 L549.42,57.48 L550.06,54.53 L550.70,51.82 L551.33,49.38 L551.97,47.21 L552.60,45.33 L553.24,43.75 L553.88,42.47 L554.51,41.51 L555.15,40.86 L555.78,40.54 L556.42,40.54 L557.06,40.86 L557.69,41.51 L558.33,42.47 L558.96,43.75 L559.60,45.33 L560.24,47.21 L560.87,49.38 L561.51,51.82 L562.14,54.53 L562.78,57.48 L563.42,60.67 L564.05,64.08 L564.69,67.68 L565.32,71.47 L565.96,75.42 L566.60,79.52 L567.23,83.74 L567.87,88.07 L568.50,92.48 L569.14,96.96 L569.78,101.48 L570.41,106.04 L571.05,110.60 L571.68,115.16 L572.32,119.69 L572.96,124.18 L573.59,128.61 L574.23,132.97 L574.86,137.25 L575.50,141.43 L576.14,145.50 L576.77,149.46 L577.41,153.28 L578.04,156.97 L578.68,160.53 L579.32,163.93 L579.95,167.18 L580.59,170.28 L581.22,173.23 L581.86,176.02 L582.50,178.65 L583.13,181.13 L583.77,183.45 L584.40,185.62 L585.04,187.64 L585.68,189.52 L586.31,191.26 L586.95,192.87 L587.58,194.35 L588.22,195.70 L588.86,196.94 L589.49,198.07 L590.13,199.09 L590.76,200.01 L591.40,200.84 L592.04,201.59 L592.67,202.25 L593.31,202.85 L593.94,203.37 L594.58,203.84 L595.22,204.24 L595.85,204.60 L596.49,204.91 L597.12,205.18 L597.76,205.41 L598.40,205.61 L599.03,205.78 L599.67,205.93 L600.30,206.05 L600.94,206.15 L601.58,206.24 L602.21,206.31 L602.85,206.37 L603.48,206.42 L604.12,206.46 L604.76,206.49 L605.39,206.51 L606.03,206.53 L606.66,206.55 L607.30,206.56"/><path d="M480.10,206.50 L480.74,206.52 L481.37,206.54 L482.01,206.55 L482.64,206.56 L483.28,206.57 L483.92,206.58 L484.55,206.59 L485.19,206.59 L485.82,206.59 L486.46,206.60 L487.10,206.60 L487.73,206.60 L488.37,206.60 L489.00,206.60 L489.64,206.60 L490.28,206.60 L490.91,206.60 L491.55,206.60 L492.18,206.60 L492.82,206.60 L493.46,206.60 L494.09,206.60 L494.73,206.60 L495.36,206.60 L496.00,206.60 L496.64,206.60 L497.27,206.60 L497.91,206.60 L498.54,206.60 L499.18,206.60 L499.82,206.60 L500.45,206.60 L501.09,206.60 L501.72,206.60 L502.36,206.60 L503.00,206.60 L503.63,206.60 L504.27,206.60 L504.90,206.60 L505.54,206.60 L506.18,206.60 L506.81,206.60 L507.45,206.60 L508.08,206.60 L508.72,206.60 L509.36,206.60 L509.99,206.60 L510.63,206.60 L511.26,206.60 L511.90,206.60 L512.54,206.60 L513.17,206.60 L513.81,206.60 L514.44,206.60 L515.08,206.60 L515.72,206.60 L516.35,206.60 L516.99,206.60 L517.62,206.60 L518.26,206.60 L518.90,206.60 L519.53,206.59 L520.17,206.59 L520.80,206.59 L521.44,206.58 L522.08,206.58 L522.71,206.57 L523.35,206.56 L523.98,206.55 L524.62,206.53 L525.26,206.51 L525.89,206.48 L526.53,206.45 L527.16,206.41 L527.80,206.36 L528.44,206.29 L529.07,206.22 L529.71,206.13 L530.34,206.02 L530.98,205.89 L531.62,205.74 L532.25,205.56 L532.89,205.36 L533.52,205.12 L534.16,204.84 L534.80,204.52 L535.43,204.15 L536.07,203.73 L536.70,203.25 L537.34,202.71 L537.98,202.09 L538.61,201.41 L539.25,200.64 L539.88,199.79 L540.52,198.84 L541.16,197.80 L541.79,196.64 L542.43,195.38 L543.06,193.99 L543.70,192.48 L544.34,190.84 L544.97,189.07 L545.61,187.15 L546.24,185.09 L546.88,182.88 L547.52,180.52 L548.15,178.01 L548.79,175.33 L549.42,172.51 L550.06,169.52 L550.70,166.38 L551.33,163.09 L551.97,159.65 L552.60,156.06 L553.24,152.34 L553.88,148.48 L554.51,144.49 L555.15,140.40 L555.78,136.19 L556.42,131.89 L557.06,127.51 L557.69,123.06 L558.33,118.56 L558.96,114.02 L559.60,109.46 L560.24,104.90 L560.87,100.35 L561.51,95.83 L562.14,91.37 L562.78,86.98 L563.42,82.67 L564.05,78.48 L564.69,74.42 L565.32,70.51 L565.96,66.76 L566.60,63.21 L567.23,59.85 L567.87,56.72 L568.50,53.83 L569.14,51.19 L569.78,48.81 L570.41,46.71 L571.05,44.91 L571.68,43.40 L572.32,42.20 L572.96,41.32 L573.59,40.75 L574.23,40.51 L574.86,40.59 L575.50,41.00 L576.14,41.72 L576.77,42.76 L577.41,44.12 L578.04,45.77 L578.68,47.73 L579.32,49.96 L579.95,52.47 L580.59,55.24 L581.22,58.26 L581.86,61.50 L582.50,64.96 L583.13,68.61 L583.77,72.44 L584.40,76.43 L585.04,80.56 L585.68,84.81 L586.31,89.16 L586.95,93.59 L587.58,98.09 L588.22,102.62 L588.86,107.18 L589.49,111.74 L590.13,116.29 L590.76,120.82 L591.40,125.29 L592.04,129.71 L592.67,134.05 L593.31,138.30 L593.94,142.46 L594.58,146.50 L595.22,150.42 L595.85,154.22 L596.49,157.88 L597.12,161.39 L597.76,164.76 L598.40,167.97 L599.03,171.03 L599.67,173.94 L600.30,176.69 L600.94,179.28 L601.58,181.72 L602.21,184.00 L602.85,186.14 L603.48,188.13 L604.12,189.97 L604.76,191.68 L605.39,193.25 L606.03,194.70 L606.66,196.02 L607.30,197.23"/><path d="M480.10,195.04 L480.74,196.34 L481.37,197.52 L482.01,198.59 L482.64,199.56 L483.28,200.44 L483.92,201.23 L484.55,201.93 L485.19,202.56 L485.82,203.12 L486.46,203.61 L487.10,204.05 L487.73,204.43 L488.37,204.76 L489.00,205.05 L489.64,205.30 L490.28,205.52 L490.91,205.70 L491.55,205.86 L492.18,205.99 L492.82,206.10 L493.46,206.20 L494.09,206.28 L494.73,206.34 L495.36,206.39 L496.00,206.44 L496.64,206.47 L497.27,206.50 L497.91,206.52 L498.54,206.54 L499.18,206.56 L499.82,206.57 L500.45,206.58 L501.09,206.58 L501.72,206.59 L502.36,206.59 L503.00,206.59 L503.63,206.60 L504.27,206.60 L504.90,206.60 L505.54,206.60 L506.18,206.60 L506.81,206.60 L507.45,206.60 L508.08,206.60 L508.72,206.60 L509.36,206.60 L509.99,206.60 L510.63,206.60 L511.26,206.60 L511.90,206.60 L512.54,206.60 L513.17,206.60 L513.81,206.60 L514.44,206.60 L515.08,206.60 L515.72,206.60 L516.35,206.60 L516.99,206.60 L517.62,206.60 L518.26,206.60 L518.90,206.60 L519.53,206.60 L520.17,206.60 L520.80,206.60 L521.44,206.60 L522.08,206.60 L522.71,206.60 L523.35,206.60 L523.98,206.60 L524.62,206.60 L525.26,206.60 L525.89,206.60 L526.53,206.60 L527.16,206.60 L527.80,206.60 L528.44,206.60 L529.07,206.60 L529.71,206.60 L530.34,206.60 L530.98,206.60 L531.62,206.60 L532.25,206.60 L532.89,206.60 L533.52,206.60 L534.16,206.60 L534.80,206.60 L535.43,206.60 L536.07,206.60 L536.70,206.59 L537.34,206.59 L537.98,206.59 L538.61,206.58 L539.25,206.58 L539.88,206.57 L540.52,206.56 L541.16,206.54 L541.79,206.52 L542.43,206.50 L543.06,206.47 L543.70,206.44 L544.34,206.39 L544.97,206.34 L545.61,206.28 L546.24,206.20 L546.88,206.10 L547.52,205.99 L548.15,205.86 L548.79,205.70 L549.42,205.52 L550.06,205.30 L550.70,205.05 L551.33,204.76 L551.97,204.43 L552.60,204.05 L553.24,203.61 L553.88,203.12 L554.51,202.56 L555.15,201.93 L555.78,201.23 L556.42,200.44 L557.06,199.56 L557.69,198.59 L558.33,197.52 L558.96,196.34 L559.60,195.04 L560.24,193.63 L560.87,192.08 L561.51,190.41 L562.14,188.60 L562.78,186.65 L563.42,184.55 L564.05,182.31 L564.69,179.91 L565.32,177.35 L565.96,174.64 L566.60,171.78 L567.23,168.75 L567.87,165.58 L568.50,162.25 L569.14,158.77 L569.78,155.15 L570.41,151.39 L571.05,147.49 L571.68,143.48 L572.32,139.35 L572.96,135.12 L573.59,130.80 L574.23,126.40 L574.86,121.94 L575.50,117.43 L576.14,112.88 L576.77,108.32 L577.41,103.76 L578.04,99.22 L578.68,94.71 L579.32,90.26 L579.95,85.89 L580.59,81.61 L581.22,77.45 L581.86,73.43 L582.50,69.56 L583.13,65.86 L583.77,62.35 L584.40,59.05 L585.04,55.97 L585.68,53.14 L586.31,50.57 L586.95,48.26 L587.58,46.23 L588.22,44.50 L588.86,43.07 L589.49,41.95 L590.13,41.15 L590.76,40.66 L591.40,40.50 L592.04,40.66 L592.67,41.15 L593.31,41.95 L593.94,43.07 L594.58,44.50 L595.22,46.23 L595.85,48.26 L596.49,50.57 L597.12,53.14 L597.76,55.97 L598.40,59.05 L599.03,62.35 L599.67,65.86 L600.30,69.56 L600.94,73.43 L601.58,77.45 L602.21,81.61 L602.85,85.89 L603.48,90.26 L604.12,94.71 L604.76,99.22 L605.39,103.76 L606.03,108.32 L606.66,112.88 L607.30,117.43"/><path d="M480.10,117.43 L480.74,121.94 L481.37,126.40 L482.01,130.80 L482.64,135.12 L483.28,139.35 L483.92,143.48 L484.55,147.49 L485.19,151.39 L485.82,155.15 L486.46,158.77 L487.10,162.25 L487.73,165.58 L488.37,168.75 L489.00,171.78 L489.64,174.64 L490.28,177.35 L490.91,179.91 L491.55,182.31 L492.18,184.55 L492.82,186.65 L493.46,188.60 L494.09,190.41 L494.73,192.08 L495.36,193.63 L496.00,195.04 L496.64,196.34 L497.27,197.52 L497.91,198.59 L498.54,199.56 L499.18,200.44 L499.82,201.23 L500.45,201.93 L501.09,202.56 L501.72,203.12 L502.36,203.61 L503.00,204.05 L503.63,204.43 L504.27,204.76 L504.90,205.05 L505.54,205.30 L506.18,205.52 L506.81,205.70 L507.45,205.86 L508.08,205.99 L508.72,206.10 L509.36,206.20 L509.99,206.28 L510.63,206.34 L511.26,206.39 L511.90,206.44 L512.54,206.47 L513.17,206.50 L513.81,206.52 L514.44,206.54 L515.08,206.56 L515.72,206.57 L516.35,206.58 L516.99,206.58 L517.62,206.59 L518.26,206.59 L518.90,206.59 L519.53,206.60 L520.17,206.60 L520.80,206.60 L521.44,206.60 L522.08,206.60 L522.71,206.60 L523.35,206.60 L523.98,206.60 L524.62,206.60 L525.26,206.60 L525.89,206.60 L526.53,206.60 L527.16,206.60 L527.80,206.60 L528.44,206.60 L529.07,206.60 L529.71,206.60 L530.34,206.60 L530.98,206.60 L531.62,206.60 L532.25,206.60 L532.89,206.60 L533.52,206.60 L534.16,206.60 L534.80,206.60 L535.43,206.60 L536.07,206.60 L536.70,206.60 L537.34,206.60 L537.98,206.60 L538.61,206.60 L539.25,206.60 L539.88,206.60 L540.52,206.60 L541.16,206.60 L541.79,206.60 L542.43,206.60 L543.06,206.60 L543.70,206.60 L544.34,206.60 L544.97,206.60 L545.61,206.60 L546.24,206.60 L546.88,206.60 L547.52,206.60 L548.15,206.60 L548.79,206.60 L549.42,206.60 L550.06,206.60 L550.70,206.60 L551.33,206.60 L551.97,206.60 L552.60,206.59 L553.24,206.59 L553.88,206.59 L554.51,206.58 L555.15,206.58 L555.78,206.57 L556.42,206.56 L557.06,206.54 L557.69,206.52 L558.33,206.50 L558.96,206.47 L559.60,206.44 L560.24,206.39 L560.87,206.34 L561.51,206.28 L562.14,206.20 L562.78,206.10 L563.42,205.99 L564.05,205.86 L564.69,205.70 L565.32,205.52 L565.96,205.30 L566.60,205.05 L567.23,204.76 L567.87,204.43 L568.50,204.05 L569.14,203.61 L569.78,203.12 L570.41,202.56 L571.05,201.93 L571.68,201.23 L572.32,200.44 L572.96,199.56 L573.59,198.59 L574.23,197.52 L574.86,196.34 L575.50,195.04 L576.14,193.63 L576.77,192.08 L577.41,190.41 L578.04,188.60 L578.68,186.65 L579.32,184.55 L579.95,182.31 L580.59,179.91 L581.22,177.35 L581.86,174.64 L582.50,171.78 L583.13,168.75 L583.77,165.58 L584.40,162.25 L585.04,158.77 L585.68,155.15 L586.31,151.39 L586.95,147.49 L587.58,143.48 L588.22,139.35 L588.86,135.12 L589.49,130.80 L590.13,126.40 L590.76,121.94 L591.40,117.43 L592.04,112.88 L592.67,108.32 L593.31,103.76 L593.94,99.22 L594.58,94.71 L595.22,90.26 L595.85,85.89 L596.49,81.61 L597.12,77.45 L597.76,73.43 L598.40,69.56 L599.03,65.86 L599.67,62.35 L600.30,59.05 L600.94,55.97 L601.58,53.14 L602.21,50.57 L602.85,48.26 L603.48,46.23 L604.12,44.50 L604.76,43.07 L605.39,41.95 L606.03,41.15 L606.66,40.66 L607.30,40.50"/></g><rect x="479.20" y="40.50" width="126.50" height="166.10" fill="none" stroke="#000" stroke-width="3"/>
<text transform="translate(81,123.95) rotate(-90)" font-size="31" text-anchor="middle" fill="#000">Model Channel</text>
<text transform="translate(118.4,123) rotate(-90)" font-size="31" text-anchor="middle" fill="#000">Response</text>
<text x="371.8" y="238" font-size="31" text-anchor="middle" fill="#000">Centered Orientation</text>
<text x="-0.5" y="288.4" font-size="37" font-weight="bold" fill="#000">b</text>
<text transform="translate(49.4,503.65) rotate(-90)" font-size="31" text-anchor="middle" fill="#000">Channel Response</text>
<text x="364.5" y="780.9" font-size="31" text-anchor="middle" fill="#000">Centered Orientation</text>
<path d="M91.40,389.20 C93.67,389.22 100.33,389.28 105.00,389.30 C109.67,389.32 113.72,390.10 119.40,389.30 C125.08,388.50 133.20,387.58 139.10,384.50 C145.00,381.42 150.20,376.27 154.80,370.80 C159.40,365.33 163.33,357.95 166.70,351.70 C170.07,345.45 172.23,339.13 175.00,333.30 C177.77,327.47 180.52,321.28 183.30,316.70 C186.08,312.12 188.37,308.53 191.70,305.80 C195.03,303.07 199.42,300.43 203.30,300.30 C207.18,300.17 211.67,302.55 215.00,305.00 C218.33,307.45 220.52,310.83 223.30,315.00 C226.08,319.17 228.92,324.72 231.70,330.00 C234.48,335.28 237.50,341.70 240.00,346.70 C242.50,351.70 243.85,355.33 246.70,360.00 C249.55,364.67 253.40,370.70 257.10,374.70 C260.80,378.70 264.30,381.87 268.90,384.00 C273.50,386.13 279.52,386.83 284.70,387.50 C289.88,388.17 294.82,387.90 300.00,388.00 C305.18,388.10 313.17,388.08 315.80,388.10 L315.80,426.50 C313.57,426.40 307.58,426.82 302.40,425.90 C297.22,424.98 290.28,423.63 284.70,421.00 C279.12,418.37 273.52,414.52 268.90,410.10 C264.28,405.68 260.32,399.52 257.00,394.50 C253.68,389.48 251.83,384.28 249.00,380.00 C246.17,375.72 243.45,372.13 240.00,368.80 C236.55,365.47 232.18,362.58 228.30,360.00 C224.42,357.42 220.87,354.75 216.70,353.30 C212.53,351.85 207.20,351.43 203.30,351.30 C199.40,351.17 196.63,351.68 193.30,352.50 C189.97,353.32 186.35,355.03 183.30,356.20 C180.25,357.37 178.10,357.98 175.00,359.50 C171.90,361.02 168.72,362.12 164.70,365.30 C160.68,368.48 155.17,373.75 150.90,378.60 C146.63,383.45 143.37,389.15 139.10,394.40 C134.83,399.65 130.23,405.67 125.30,410.10 C120.37,414.53 115.15,418.37 109.50,421.00 C103.85,423.63 94.42,425.08 91.40,425.90 Z" fill="#dae8f6"/><path d="M91.80,406.80 C93.92,406.73 100.23,406.67 104.50,406.40 C108.77,406.13 112.62,406.62 117.40,405.20 C122.18,403.78 127.62,402.00 133.20,397.90 C138.78,393.80 146.30,385.62 150.90,380.60 C155.50,375.58 156.53,373.38 160.80,367.80 C165.07,362.22 171.58,353.37 176.50,347.10 C181.42,340.83 185.88,333.78 190.30,330.20 C194.72,326.62 198.10,325.25 203.00,325.60 C207.90,325.95 213.63,327.23 219.70,332.30 C225.77,337.37 234.15,349.27 239.40,356.00 C244.65,362.73 247.27,367.62 251.20,372.70 C255.13,377.78 258.40,381.90 263.00,386.50 C267.60,391.10 272.88,396.88 278.80,400.30 C284.72,403.72 292.33,405.78 298.50,407.00 C304.67,408.22 312.92,407.50 315.80,407.60" fill="none" stroke="#2a6fb8" stroke-width="3"/><path d="M91.80,406.80 C93.92,406.73 100.23,406.63 104.50,406.40 C108.77,406.17 112.62,406.75 117.40,405.40 C122.18,404.05 127.62,402.30 133.20,398.30 C138.78,394.30 146.30,386.35 150.90,381.40 C155.50,376.45 156.53,374.08 160.80,368.60 C165.07,363.12 171.58,354.35 176.50,348.50 C181.42,342.65 186.05,336.67 190.30,333.50 C194.55,330.33 198.25,329.75 202.00,329.50 C205.75,329.25 208.70,329.72 212.80,332.00 C216.90,334.28 221.68,338.05 226.60,343.20 C231.52,348.35 237.70,357.32 242.30,362.90 C246.90,368.48 249.27,371.62 254.20,376.70 C259.13,381.78 266.33,389.13 271.90,393.40 C277.47,397.67 282.92,400.33 287.60,402.30 C292.28,404.27 295.30,404.48 300.00,405.20 C304.70,405.92 313.17,406.37 315.80,406.60" fill="none" stroke="#e0231d" stroke-width="3.2" stroke-dasharray="26 16.5"/>
<g stroke="#3c3c3c" fill="none"><path d="M77.75,279.40 V472.75" stroke-width="2.9"/><path d="M76.30,471.30 H329.50" stroke-width="2.8"/><path d="M77.75,280.60 H81.65" stroke-width="2.3"/><path d="M77.75,376.00 H81.65" stroke-width="2.3"/><path d="M90.30,471.30 V467.70" stroke-width="2.3"/><path d="M203.00,471.30 V467.70" stroke-width="2.3"/><path d="M315.50,471.30 V467.70" stroke-width="2.3"/></g><g fill="#3c3c3c" font-size="20.7"><path d="M71.05,270.50 V284.90 M65.90,276.40 L70.90,271.60" stroke="#3c3c3c" stroke-width="1.75" fill="none"/><text x="75.20" y="379.90" text-anchor="end">0</text><path d="M70.30,461.30 V475.80 M65.20,467.20 L70.10,462.40 M57.00,470.30 H62.80" stroke="#3c3c3c" stroke-width="1.75" fill="none"/><text x="88.00" y="488.70" text-anchor="middle">-90</text><text x="204.35" y="488.90" text-anchor="middle">0</text><text x="314.80" y="488.70" text-anchor="middle">90</text></g>
<path d="M420.20,388.00 C423.42,385.87 433.00,379.05 439.50,375.20 C446.00,371.35 452.63,367.87 459.20,364.90 C465.77,361.93 472.33,359.97 478.90,357.40 C485.47,354.83 492.68,352.28 498.60,349.50 C504.52,346.72 509.75,342.57 514.40,340.70 C519.05,338.83 522.77,338.30 526.50,338.30 C530.23,338.30 532.78,339.15 536.80,340.70 C540.82,342.25 546.00,344.65 550.60,347.60 C555.20,350.55 559.47,354.13 564.40,358.40 C569.33,362.67 575.28,369.10 580.20,373.20 C585.12,377.30 588.98,380.53 593.90,383.00 C598.82,385.47 604.77,386.85 609.70,388.00 C614.63,389.15 619.23,389.58 623.50,389.90 C627.77,390.22 631.78,390.22 635.30,389.90 C638.82,389.58 643.05,388.32 644.60,388.00 L644.60,405.70 C643.05,406.52 638.82,409.13 635.30,410.60 C631.78,412.07 627.77,413.85 623.50,414.50 C619.23,415.15 614.63,415.63 609.70,414.50 C604.77,413.37 598.82,410.65 593.90,407.70 C588.98,404.75 585.12,401.23 580.20,396.80 C575.28,392.37 569.33,386.02 564.40,381.10 C559.47,376.18 555.20,370.92 550.60,367.30 C546.00,363.68 540.90,361.37 536.80,359.40 C532.70,357.43 529.73,356.15 526.00,355.50 C522.27,354.85 518.97,354.20 514.40,355.50 C509.83,356.80 504.52,360.02 498.60,363.30 C492.68,366.58 485.47,371.58 478.90,375.20 C472.33,378.82 465.77,381.73 459.20,385.00 C452.63,388.27 446.00,391.68 439.50,394.80 C433.00,397.92 423.42,402.22 420.20,403.70 Z" fill="#dae8f6"/><path d="M420.80,394.80 C423.92,393.17 433.10,388.27 439.50,385.00 C445.90,381.73 452.63,378.48 459.20,375.20 C465.77,371.92 472.33,368.58 478.90,365.30 C485.47,362.02 492.68,358.18 498.60,355.50 C504.52,352.82 510.08,350.55 514.40,349.20 C518.72,347.85 521.10,347.53 524.50,347.40 C527.90,347.27 530.78,347.05 534.80,348.40 C538.82,349.75 543.67,352.03 548.60,355.50 C553.53,358.97 559.13,364.28 564.40,369.20 C569.67,374.12 575.28,380.40 580.20,385.00 C585.12,389.60 588.98,393.73 593.90,396.80 C598.82,399.87 604.77,402.25 609.70,403.40 C614.63,404.55 619.23,404.13 623.50,403.70 C627.77,403.27 631.85,401.95 635.30,400.80 C638.75,399.65 642.72,397.47 644.20,396.80" fill="none" stroke="#2a6fb8" stroke-width="3"/><path d="M420.80,395.20 C422.93,395.30 429.33,395.92 433.60,395.80 C437.87,395.68 441.47,395.58 446.40,394.50 C451.33,393.42 456.80,392.37 463.20,389.30 C469.60,386.23 479.07,380.10 484.80,376.10 C490.53,372.10 492.02,369.57 497.60,365.30 C503.18,361.03 512.10,353.48 518.30,350.50 C524.50,347.52 530.07,347.40 534.80,347.40 C539.53,347.40 542.75,349.00 546.70,350.50 C550.65,352.00 554.23,353.60 558.50,356.40 C562.77,359.20 566.55,362.93 572.30,367.30 C578.05,371.67 586.77,378.93 593.00,382.60 C599.23,386.27 602.98,387.32 609.70,389.30 C616.42,391.28 627.55,393.42 633.30,394.50 C639.05,395.58 642.38,395.58 644.20,395.80" fill="none" stroke="#e0231d" stroke-width="3.2" stroke-dasharray="26 16.5"/>
<g stroke="#3c3c3c" fill="none"><path d="M407.05,279.40 V472.75" stroke-width="2.9"/><path d="M405.60,471.30 H658.80" stroke-width="2.8"/><path d="M407.05,280.60 H410.95" stroke-width="2.3"/><path d="M407.05,376.00 H410.95" stroke-width="2.3"/><path d="M419.60,471.30 V467.70" stroke-width="2.3"/><path d="M532.30,471.30 V467.70" stroke-width="2.3"/><path d="M644.80,471.30 V467.70" stroke-width="2.3"/></g><g fill="#3c3c3c" font-size="20.7"><path d="M400.35,270.50 V284.90 M395.20,276.40 L400.20,271.60" stroke="#3c3c3c" stroke-width="1.75" fill="none"/><text x="404.50" y="379.90" text-anchor="end">0</text><path d="M399.60,461.30 V475.80 M394.50,467.20 L399.40,462.40 M386.30,470.30 H392.10" stroke="#3c3c3c" stroke-width="1.75" fill="none"/><text x="417.30" y="488.70" text-anchor="middle">-90</text><text x="533.65" y="488.90" text-anchor="middle">0</text><text x="644.10" y="488.70" text-anchor="middle">90</text></g>
<path d="M91.40,624.90 C94.42,626.28 103.20,630.18 109.50,633.20 C115.80,636.22 122.63,640.38 129.20,643.00 C135.77,645.62 142.98,648.07 148.90,648.90 C154.82,649.73 159.77,649.30 164.70,648.00 C169.63,646.70 173.52,644.52 178.50,641.10 C183.48,637.68 189.77,632.77 194.60,627.50 C199.43,622.23 203.17,612.98 207.50,609.50 C211.83,606.02 216.12,606.85 220.60,606.60 C225.08,606.35 229.80,607.12 234.40,608.00 C239.00,608.88 243.28,610.82 248.20,611.90 C253.12,612.98 258.65,613.75 263.90,614.50 C269.15,615.25 274.12,615.58 279.70,616.40 C285.28,617.22 291.43,618.18 297.40,619.40 C303.37,620.62 312.48,622.98 315.50,623.70 L315.50,659.80 C312.48,659.47 303.37,658.78 297.40,657.80 C291.43,656.82 285.28,656.03 279.70,653.90 C274.12,651.77 269.15,648.12 263.90,645.00 C258.65,641.88 253.12,637.17 248.20,635.20 C243.28,633.23 239.00,632.72 234.40,633.20 C229.80,633.68 225.08,635.80 220.60,638.10 C216.12,640.40 211.83,643.43 207.50,647.00 C203.17,650.57 199.43,655.73 194.60,659.50 C189.77,663.27 183.48,667.10 178.50,669.60 C173.52,672.10 169.63,673.52 164.70,674.50 C159.77,675.48 154.82,676.32 148.90,675.50 C142.98,674.68 135.77,671.57 129.20,669.60 C122.63,667.63 115.80,665.33 109.50,663.70 C103.20,662.07 94.42,660.45 91.40,659.80 Z" fill="#dae8f6"/><path d="M91.80,642.60 C94.75,643.50 103.27,645.47 109.50,648.00 C115.73,650.53 122.63,655.28 129.20,657.80 C135.77,660.32 143.32,662.45 148.90,663.10 C154.48,663.75 157.77,663.23 162.70,661.70 C167.63,660.17 173.20,657.35 178.50,653.90 C183.80,650.45 189.78,644.95 194.50,641.00 C199.22,637.05 202.45,633.15 206.80,630.20 C211.15,627.25 216.00,624.83 220.60,623.30 C225.20,621.77 229.80,620.93 234.40,621.00 C239.00,621.07 243.28,622.17 248.20,623.70 C253.12,625.23 258.65,628.28 263.90,630.20 C269.15,632.12 274.12,633.78 279.70,635.20 C285.28,636.62 291.43,637.72 297.40,638.70 C303.37,639.68 312.48,640.70 315.50,641.10" fill="none" stroke="#2a6fb8" stroke-width="3"/><path d="M91.80,642.60 C96.07,642.83 108.20,643.87 117.40,644.00 C126.60,644.13 136.82,643.82 147.00,643.40 C157.18,642.98 169.15,642.05 178.50,641.50 C187.85,640.95 194.12,640.50 203.10,640.10 C212.08,639.70 220.62,639.10 232.40,639.10 C244.18,639.10 259.95,639.52 273.80,640.10 C287.65,640.68 308.55,642.18 315.50,642.60" fill="none" stroke="#e0231d" stroke-width="3.2" stroke-dasharray="26 16.5"/>
<g stroke="#3c3c3c" fill="none"><path d="M77.75,544.70 V738.05" stroke-width="2.9"/><path d="M76.30,736.60 H329.50" stroke-width="2.8"/><path d="M77.75,545.90 H81.65" stroke-width="2.3"/><path d="M77.75,641.30 H81.65" stroke-width="2.3"/><path d="M90.30,736.60 V733.00" stroke-width="2.3"/><path d="M203.00,736.60 V733.00" stroke-width="2.3"/><path d="M315.50,736.60 V733.00" stroke-width="2.3"/></g><g fill="#3c3c3c" font-size="20.7"><path d="M71.05,535.80 V550.20 M65.90,541.70 L70.90,536.90" stroke="#3c3c3c" stroke-width="1.75" fill="none"/><text x="75.20" y="645.20" text-anchor="end">0</text><path d="M70.30,726.60 V741.10 M65.20,732.50 L70.10,727.70 M57.00,735.60 H62.80" stroke="#3c3c3c" stroke-width="1.75" fill="none"/><text x="88.00" y="754.00" text-anchor="middle">-90</text><text x="204.35" y="754.20" text-anchor="middle">0</text><text x="314.80" y="754.00" text-anchor="middle">90</text></g>
<path d="M420.20,600.50 C422.43,599.85 428.73,597.42 433.60,596.60 C438.47,595.78 444.47,594.78 449.40,595.60 C454.33,596.42 458.28,597.57 463.20,601.50 C468.12,605.43 473.98,613.28 478.90,619.20 C483.82,625.12 488.10,631.73 492.70,637.00 C497.30,642.27 501.90,647.20 506.50,650.80 C511.10,654.40 516.03,656.90 520.30,658.60 C524.57,660.30 527.05,660.67 532.10,661.00 C537.15,661.33 545.22,661.32 550.60,660.60 C555.98,659.88 559.80,659.98 564.40,656.70 C569.00,653.42 573.60,646.48 578.20,640.90 C582.80,635.32 587.40,628.28 592.00,623.20 C596.60,618.12 601.22,613.68 605.80,610.40 C610.38,607.12 614.92,605.05 619.50,603.50 C624.08,601.95 629.12,601.60 633.30,601.10 C637.48,600.60 642.72,600.60 644.60,600.50 L644.60,630.10 C642.07,631.90 634.57,637.62 629.40,640.90 C624.23,644.18 618.53,647.67 613.60,649.80 C608.67,651.93 604.38,652.55 599.80,653.70 C595.22,654.85 590.68,654.57 586.10,656.70 C581.52,658.83 576.90,661.58 572.30,666.50 C567.70,671.42 563.10,680.28 558.50,686.20 C553.90,692.12 549.45,698.45 544.70,702.00 C539.95,705.55 534.72,707.83 530.00,707.50 C525.28,707.17 520.97,703.88 516.40,700.00 C511.83,696.12 507.20,690.12 502.60,684.20 C498.00,678.28 493.40,671.38 488.80,664.50 C484.20,657.62 479.60,649.13 475.00,642.90 C470.40,636.67 465.80,630.72 461.20,627.10 C456.60,623.48 452.00,621.85 447.40,621.20 C442.80,620.55 438.13,622.05 433.60,623.20 C429.07,624.35 422.43,627.28 420.20,628.10 Z" fill="#dae8f6"/><path d="M420.80,613.30 C422.93,612.58 429.17,609.92 433.60,609.00 C438.03,608.08 442.80,607.25 447.40,607.80 C452.00,608.35 456.60,609.40 461.20,612.30 C465.80,615.20 470.40,619.78 475.00,625.20 C479.60,630.62 484.20,638.57 488.80,644.80 C493.40,651.03 498.00,657.18 502.60,662.60 C507.20,668.02 511.80,673.80 516.40,677.30 C521.00,680.80 525.48,683.10 530.20,683.60 C534.92,684.10 539.98,682.48 544.70,680.30 C549.42,678.12 553.90,674.43 558.50,670.50 C563.10,666.57 567.70,661.30 572.30,656.70 C576.90,652.10 581.52,646.85 586.10,642.90 C590.68,638.95 595.22,635.63 599.80,633.00 C604.38,630.37 608.67,629.07 613.60,627.10 C618.53,625.13 624.30,623.17 629.40,621.20 C634.50,619.23 641.73,616.28 644.20,615.30" fill="none" stroke="#2a6fb8" stroke-width="3"/><path d="M420.80,612.90 C422.93,613.23 429.33,614.17 433.60,614.90 C437.87,615.63 441.80,615.75 446.40,617.30 C451.00,618.85 455.45,620.10 461.20,624.20 C466.95,628.30 475.82,636.82 480.90,641.90 C485.98,646.98 487.10,649.35 491.70,654.70 C496.30,660.05 503.40,669.08 508.50,674.00 C513.60,678.92 518.30,682.23 522.30,684.20 C526.30,686.17 528.60,686.45 532.50,685.80 C536.40,685.15 541.20,683.35 545.70,680.30 C550.20,677.25 554.90,672.75 559.50,667.50 C564.10,662.25 569.03,654.38 573.30,648.80 C577.57,643.22 580.02,639.08 585.10,634.00 C590.18,628.92 597.73,621.92 603.80,618.30 C609.87,614.68 616.58,613.45 621.50,612.30 C626.42,611.15 629.52,611.40 633.30,611.40 C637.08,611.40 642.38,612.15 644.20,612.30" fill="none" stroke="#e0231d" stroke-width="3.2" stroke-dasharray="26 16.5"/>
<g stroke="#3c3c3c" fill="none"><path d="M407.05,544.70 V738.05" stroke-width="2.9"/><path d="M405.60,736.60 H658.80" stroke-width="2.8"/><path d="M407.05,545.90 H410.95" stroke-width="2.3"/><path d="M407.05,641.30 H410.95" stroke-width="2.3"/><path d="M419.60,736.60 V733.00" stroke-width="2.3"/><path d="M532.30,736.60 V733.00" stroke-width="2.3"/><path d="M644.80,736.60 V733.00" stroke-width="2.3"/></g><g fill="#3c3c3c" font-size="20.7"><path d="M400.35,535.80 V550.20 M395.20,541.70 L400.20,536.90" stroke="#3c3c3c" stroke-width="1.75" fill="none"/><text x="404.50" y="645.20" text-anchor="end">0</text><path d="M399.60,726.60 V741.10 M394.50,732.50 L399.40,727.70 M386.30,735.60 H392.10" stroke="#3c3c3c" stroke-width="1.75" fill="none"/><text x="417.30" y="754.00" text-anchor="middle">-90</text><text x="533.65" y="754.20" text-anchor="middle">0</text><text x="644.10" y="754.00" text-anchor="middle">90</text></g>
<text x="201.90" y="286.70" font-size="31" text-anchor="middle" fill="#000">Stim</text>
<text x="528.75" y="286.70" font-size="31" text-anchor="middle" fill="#000">Cued</text>
<text x="198.10" y="551.70" font-size="31" text-anchor="middle" fill="#000">Fut-rel</text>
<text x="525.20" y="551.70" font-size="31" text-anchor="middle" fill="#000">Fut-Irr</text>
<path d="M94.9,697.3 H146.6" stroke="#2a6fb8" stroke-width="3.1"/>
<path d="M94.9,716.5 H100.2 M114,716.5 H127.8 M141,716.5 H146.6" stroke="#e0231d" stroke-width="3.2"/>
<text x="163.0" y="701.1" font-size="20.5" fill="#111">Data</text>
<text x="162.8" y="724.5" font-size="20.5" fill="#111">Model Fit</text>
</svg>
</body></html>
